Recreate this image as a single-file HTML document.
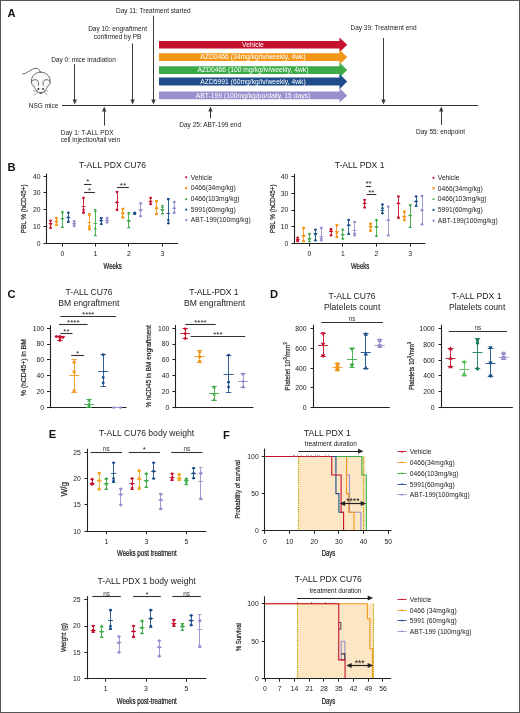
<!DOCTYPE html><html><head><meta charset="utf-8"><style>html,body{margin:0;padding:0;background:#fff}svg{display:block;filter:blur(0.3px)}text{font-family:"Liberation Sans",sans-serif}</style></head><body>
<svg width="520" height="713" viewBox="0 0 520 713">
<rect x="0" y="0" width="520" height="713" fill="#fff"/>
<text x="7.5" y="17.4" font-size="11.2" text-anchor="start" fill="#111" font-weight="bold" >A</text>
<line x1="62" y1="105.5" x2="478" y2="105.5" stroke="#333" stroke-width="1" />
<text x="83.5" y="61.5" font-size="6.5" text-anchor="middle" fill="#222" font-weight="normal" >Day 0: mice irradiation</text>
<line x1="74.5" y1="64" x2="74.5" y2="100.6" stroke="#3a3a3a" stroke-width="1" />
<path d="M72.6,99.6 L77.0,99.6 L74.8,104.6 Z" fill="#3a3a3a"/>
<text x="117.6" y="30.9" font-size="6.5" text-anchor="middle" fill="#222" font-weight="normal" >Day 10: engraftment</text>
<text x="117.6" y="38.7" font-size="6.5" text-anchor="middle" fill="#222" font-weight="normal" >confirmed by PB</text>
<line x1="132.5" y1="43.5" x2="132.5" y2="100.6" stroke="#3a3a3a" stroke-width="1" />
<path d="M130.4,99.6 L134.79999999999998,99.6 L132.6,104.6 Z" fill="#3a3a3a"/>
<text x="153.3" y="13.4" font-size="6.5" text-anchor="middle" fill="#222" font-weight="normal" >Day 11: Treatment started</text>
<line x1="153.5" y1="15.7" x2="153.5" y2="100.6" stroke="#3a3a3a" stroke-width="1" />
<path d="M151.3,99.6 L155.7,99.6 L153.5,104.6 Z" fill="#3a3a3a"/>
<text x="383.5" y="30.0" font-size="6.5" text-anchor="middle" fill="#222" font-weight="normal" >Day 39: Treatment end</text>
<line x1="383.5" y1="38" x2="383.5" y2="100.6" stroke="#3a3a3a" stroke-width="1" />
<path d="M381.3,99.6 L385.7,99.6 L383.5,104.6 Z" fill="#3a3a3a"/>
<line x1="104.5" y1="125.6" x2="104.5" y2="110.5" stroke="#3a3a3a" stroke-width="1" />
<path d="M102.0,111.5 L106.4,111.5 L104.2,106.5 Z" fill="#3a3a3a"/>
<text x="60.8" y="134.9" font-size="6.5" text-anchor="start" fill="#222" font-weight="normal" >Day 1: T-ALL PDX</text>
<text x="60.8" y="142.4" font-size="6.5" text-anchor="start" fill="#222" font-weight="normal" >cell injection/tail vein</text>
<line x1="210.5" y1="118.3" x2="210.5" y2="110.5" stroke="#3a3a3a" stroke-width="1" />
<path d="M208.20000000000002,111.5 L212.6,111.5 L210.4,106.5 Z" fill="#3a3a3a"/>
<text x="210.2" y="126.5" font-size="6.5" text-anchor="middle" fill="#222" font-weight="normal" >Day 25: ABT-199 end</text>
<line x1="441.5" y1="124.8" x2="441.5" y2="110.5" stroke="#3a3a3a" stroke-width="1" />
<path d="M439.0,111.5 L443.4,111.5 L441.2,106.5 Z" fill="#3a3a3a"/>
<text x="440.6" y="134.3" font-size="6.5" text-anchor="middle" fill="#222" font-weight="normal" >Day 55: endpoint</text>
<text x="43.6" y="107.6" font-size="6.5" text-anchor="middle" fill="#222" font-weight="normal" >NSG mice</text>
<path d="M159,41 L339.5,41 L339.5,37.4 L347.2,44.8 L339.5,52.2 L339.5,48.6 L159,48.6 Z" fill="#c4122f"/>
<text x="253" y="47.099999999999994" font-size="6.75" text-anchor="middle" fill="#fff" font-weight="normal" >Vehicle</text>
<path d="M159,53.3 L339.5,53.3 L339.5,49.699999999999996 L347.2,57.099999999999994 L339.5,64.5 L339.5,60.9 L159,60.9 Z" fill="#f3971b"/>
<text x="253" y="59.39999999999999" font-size="6.75" text-anchor="middle" fill="#fff" font-weight="normal" >AZD0466 (34mg/kg/iv/weekly, 4wk)</text>
<path d="M159,66.2 L339.5,66.2 L339.5,62.6 L347.2,70.05000000000001 L339.5,77.5 L339.5,73.9 L159,73.9 Z" fill="#3cab47"/>
<text x="253" y="72.35000000000001" font-size="6.75" text-anchor="middle" fill="#fff" font-weight="normal" >AZD0466 (100 mg/kg/iv/weekly, 4wk)</text>
<path d="M159,77.6 L339.5,77.6 L339.5,74.0 L347.2,81.6 L339.5,89.19999999999999 L339.5,85.6 L159,85.6 Z" fill="#1f4d8b"/>
<text x="253" y="83.89999999999999" font-size="6.75" text-anchor="middle" fill="#fff" font-weight="normal" >AZD5991 (60mg/kg/iv/weekly, 4wk)</text>
<path d="M159,91.6 L339.5,91.6 L339.5,88.0 L347.2,95.4 L339.5,102.8 L339.5,99.2 L159,99.2 Z" fill="#988fcc"/>
<text x="253" y="97.7" font-size="6.75" text-anchor="middle" fill="#fff" font-weight="normal" >ABT-199 (100mg/kg/po/daily, 15 days)</text>
<g fill="none" stroke="#555" stroke-width="0.9" stroke-linecap="round" stroke-linejoin="round">
<path d="M22.8,73.8 C27,74.2 31,68.5 36.2,68.2 C38.3,68.2 39.6,70 40.3,72.1"/>
<path d="M40.5,72.1 C45.5,72.1 49.6,75.5 50.1,80 C50.8,83 49.6,85.5 47.6,86.2 C46.4,89.3 43.5,93.3 40.8,93.3 C38.1,93.3 35.2,89.3 34,86.2 C32,85.5 30.8,83 31.5,80 C32,75.5 35.5,72.1 40.5,72.1 Z" fill="#fafafa"/>
<path d="M31.8,81.2 C33,79.4 35.9,79.2 37.4,80.4 C38.6,81.4 38.8,83.4 38.4,85.2" stroke="#666" stroke-width="1"/>
<path d="M49.8,81.2 C48.6,79.4 45.7,79.2 44.2,80.4 C43,81.4 42.8,83.4 43.2,85.2" stroke="#666" stroke-width="1"/>
<path d="M37.5,91.6 L33.6,90.8 M37.6,92.4 L34.5,94.8 M44.1,91.6 L48,90.8 M44,92.4 L47.1,94.8" stroke-width="0.5"/>
</g>
<circle cx="38.4" cy="88.9" r="0.95" fill="#222"/><circle cx="43.1" cy="88.9" r="0.95" fill="#222"/>
<path d="M39.6,92.4 Q40.8,93.6 42,92.4" stroke="#333" stroke-width="1.1" fill="none"/>
<text x="7.5" y="170.5" font-size="11.2" text-anchor="start" fill="#111" font-weight="bold" >B</text>
<text x="112.5" y="167.8" font-size="8.6" text-anchor="middle" fill="#222" font-weight="normal" >T-ALL PDX CU76</text>
<line x1="46.5" y1="173.6" x2="46.5" y2="244.1" stroke="#222" stroke-width="1.1" />
<line x1="43.5" y1="243.5" x2="46.5" y2="243.5" stroke="#222" stroke-width="1" />
<text x="40.5" y="245.9" font-size="6.8" text-anchor="end" fill="#222" font-weight="normal" >0</text>
<line x1="43.5" y1="226.5" x2="46.5" y2="226.5" stroke="#222" stroke-width="1" />
<text x="40.5" y="229.05" font-size="6.8" text-anchor="end" fill="#222" font-weight="normal" >10</text>
<line x1="43.5" y1="209.5" x2="46.5" y2="209.5" stroke="#222" stroke-width="1" />
<text x="40.5" y="212.20000000000002" font-size="6.8" text-anchor="end" fill="#222" font-weight="normal" >20</text>
<line x1="43.5" y1="192.5" x2="46.5" y2="192.5" stroke="#222" stroke-width="1" />
<text x="40.5" y="195.35" font-size="6.8" text-anchor="end" fill="#222" font-weight="normal" >30</text>
<line x1="43.5" y1="176.5" x2="46.5" y2="176.5" stroke="#222" stroke-width="1" />
<text x="40.5" y="178.5" font-size="6.8" text-anchor="end" fill="#222" font-weight="normal" >40</text>
<line x1="46.0" y1="243.5" x2="178" y2="243.5" stroke="#222" stroke-width="1.1" />
<line x1="62.5" y1="243.5" x2="62.5" y2="246.5" stroke="#222" stroke-width="1" />
<text x="62.4" y="255.9" font-size="6.8" text-anchor="middle" fill="#222" font-weight="normal" >0</text>
<line x1="95.5" y1="243.5" x2="95.5" y2="246.5" stroke="#222" stroke-width="1" />
<text x="95.3" y="255.9" font-size="6.8" text-anchor="middle" fill="#222" font-weight="normal" >1</text>
<line x1="128.5" y1="243.5" x2="128.5" y2="246.5" stroke="#222" stroke-width="1" />
<text x="128.8" y="255.9" font-size="6.8" text-anchor="middle" fill="#222" font-weight="normal" >2</text>
<line x1="162.5" y1="243.5" x2="162.5" y2="246.5" stroke="#222" stroke-width="1" />
<text x="162.4" y="255.9" font-size="6.8" text-anchor="middle" fill="#222" font-weight="normal" >3</text>
<text transform="translate(112.7,268.6) scale(0.7,1)" font-size="8.6" text-anchor="middle" fill="#222" stroke="#222" stroke-width="0.25">Weeks</text>
<text transform="translate(25.8,208.8) rotate(-90) scale(0.82,1)" font-size="7.8" text-anchor="middle" fill="#222" stroke="#222" stroke-width="0.2">PBL % (hCD45+)</text>
<line x1="50.5" y1="220.08" x2="50.5" y2="228.17" stroke="#c4122f" stroke-width="0.9" />
<line x1="49.3" y1="220.5" x2="51.89999999999999" y2="220.5" stroke="#c4122f" stroke-width="0.9" />
<line x1="49.3" y1="228.5" x2="51.89999999999999" y2="228.5" stroke="#c4122f" stroke-width="0.9" />
<line x1="48.699999999999996" y1="223.5" x2="52.49999999999999" y2="223.5" stroke="#c4122f" stroke-width="0.9" />
<circle cx="50.599999999999994" cy="220.75" r="1.25" fill="#c4122f"/>
<circle cx="50.599999999999994" cy="224.12" r="1.25" fill="#c4122f"/>
<circle cx="50.599999999999994" cy="227.83" r="1.25" fill="#c4122f"/>
<line x1="56.5" y1="217.21" x2="56.5" y2="225.98" stroke="#f3971b" stroke-width="0.9" />
<line x1="55.2" y1="217.5" x2="57.8" y2="217.5" stroke="#f3971b" stroke-width="0.9" />
<line x1="55.2" y1="225.5" x2="57.8" y2="225.5" stroke="#f3971b" stroke-width="0.9" />
<line x1="54.6" y1="221.5" x2="58.4" y2="221.5" stroke="#f3971b" stroke-width="0.9" />
<rect x="55.25" y="216.97" width="2.5" height="2.5" fill="#f3971b"/>
<rect x="55.25" y="220.34" width="2.5" height="2.5" fill="#f3971b"/>
<rect x="55.25" y="223.72" width="2.5" height="2.5" fill="#f3971b"/>
<line x1="62.5" y1="211.82" x2="62.5" y2="227.32" stroke="#3cab47" stroke-width="0.9" />
<line x1="61.1" y1="211.5" x2="63.699999999999996" y2="211.5" stroke="#3cab47" stroke-width="0.9" />
<line x1="61.1" y1="227.5" x2="63.699999999999996" y2="227.5" stroke="#3cab47" stroke-width="0.9" />
<line x1="60.5" y1="218.5" x2="64.3" y2="218.5" stroke="#3cab47" stroke-width="0.9" />
<path d="M62.4,210.7675 L63.9625,213.58 L60.8375,213.58 Z" fill="#3cab47"/>
<path d="M62.4,216.6575 L63.9625,219.47 L60.8375,219.47 Z" fill="#3cab47"/>
<path d="M62.4,225.0875 L63.9625,227.9 L60.8375,227.9 Z" fill="#3cab47"/>
<line x1="68.5" y1="212.16" x2="68.5" y2="222.61" stroke="#1c4f8a" stroke-width="0.9" />
<line x1="67.0" y1="212.5" x2="69.6" y2="212.5" stroke="#1c4f8a" stroke-width="0.9" />
<line x1="67.0" y1="222.5" x2="69.6" y2="222.5" stroke="#1c4f8a" stroke-width="0.9" />
<line x1="66.39999999999999" y1="217.5" x2="70.2" y2="217.5" stroke="#1c4f8a" stroke-width="0.9" />
<circle cx="68.3" cy="212.66" r="1.25" fill="#1c4f8a"/>
<circle cx="68.3" cy="217.38" r="1.25" fill="#1c4f8a"/>
<circle cx="68.3" cy="221.59" r="1.25" fill="#1c4f8a"/>
<line x1="74.5" y1="220.92" x2="74.5" y2="226.14" stroke="#9890cd" stroke-width="0.9" />
<line x1="72.9" y1="220.5" x2="75.5" y2="220.5" stroke="#9890cd" stroke-width="0.9" />
<line x1="72.9" y1="226.5" x2="75.5" y2="226.5" stroke="#9890cd" stroke-width="0.9" />
<line x1="72.3" y1="223.5" x2="76.10000000000001" y2="223.5" stroke="#9890cd" stroke-width="0.9" />
<path d="M74.2,219.9025 L75.8875,221.59 L74.2,223.2775 L72.5125,221.59 Z" fill="#9890cd"/>
<path d="M74.2,222.4325 L75.8875,224.12 L74.2,225.8075 L72.5125,224.12 Z" fill="#9890cd"/>
<path d="M74.2,224.1225 L75.8875,225.81 L74.2,227.4975 L72.5125,225.81 Z" fill="#9890cd"/>
<line x1="83.5" y1="197.67" x2="83.5" y2="213.84" stroke="#c4122f" stroke-width="0.9" />
<line x1="82.2" y1="197.5" x2="84.8" y2="197.5" stroke="#c4122f" stroke-width="0.9" />
<line x1="82.2" y1="213.5" x2="84.8" y2="213.5" stroke="#c4122f" stroke-width="0.9" />
<line x1="81.6" y1="206.5" x2="85.4" y2="206.5" stroke="#c4122f" stroke-width="0.9" />
<circle cx="83.5" cy="198.0" r="1.25" fill="#c4122f"/>
<circle cx="83.5" cy="209.8" r="1.25" fill="#c4122f"/>
<circle cx="83.5" cy="212.33" r="1.25" fill="#c4122f"/>
<line x1="89.5" y1="213.84" x2="89.5" y2="229.68" stroke="#f3971b" stroke-width="0.9" />
<line x1="88.1" y1="213.5" x2="90.69999999999999" y2="213.5" stroke="#f3971b" stroke-width="0.9" />
<line x1="88.1" y1="229.5" x2="90.69999999999999" y2="229.5" stroke="#f3971b" stroke-width="0.9" />
<line x1="87.49999999999999" y1="222.5" x2="91.3" y2="222.5" stroke="#f3971b" stroke-width="0.9" />
<rect x="88.14999999999999" y="213.6" width="2.5" height="2.5" fill="#f3971b"/>
<rect x="88.14999999999999" y="225.4" width="2.5" height="2.5" fill="#f3971b"/>
<rect x="88.14999999999999" y="227.93" width="2.5" height="2.5" fill="#f3971b"/>
<line x1="95.5" y1="209.8" x2="95.5" y2="235.41" stroke="#3cab47" stroke-width="0.9" />
<line x1="94.0" y1="209.5" x2="96.6" y2="209.5" stroke="#3cab47" stroke-width="0.9" />
<line x1="94.0" y1="235.5" x2="96.6" y2="235.5" stroke="#3cab47" stroke-width="0.9" />
<line x1="93.39999999999999" y1="223.5" x2="97.2" y2="223.5" stroke="#3cab47" stroke-width="0.9" />
<path d="M95.3,209.0775 L96.8625,211.89 L93.7375,211.89 Z" fill="#3cab47"/>
<path d="M95.3,226.7775 L96.8625,229.59 L93.7375,229.59 Z" fill="#3cab47"/>
<path d="M95.3,233.5075 L96.8625,236.32 L93.7375,236.32 Z" fill="#3cab47"/>
<line x1="101.5" y1="217.89" x2="101.5" y2="224.97" stroke="#1c4f8a" stroke-width="0.9" />
<line x1="99.9" y1="217.5" x2="102.5" y2="217.5" stroke="#1c4f8a" stroke-width="0.9" />
<line x1="99.9" y1="224.5" x2="102.5" y2="224.5" stroke="#1c4f8a" stroke-width="0.9" />
<line x1="99.3" y1="220.5" x2="103.10000000000001" y2="220.5" stroke="#1c4f8a" stroke-width="0.9" />
<circle cx="101.2" cy="218.22" r="1.25" fill="#1c4f8a"/>
<circle cx="101.2" cy="220.75" r="1.25" fill="#1c4f8a"/>
<circle cx="101.2" cy="224.12" r="1.25" fill="#1c4f8a"/>
<line x1="107.5" y1="217.55" x2="107.5" y2="222.94" stroke="#9890cd" stroke-width="0.9" />
<line x1="105.8" y1="217.5" x2="108.39999999999999" y2="217.5" stroke="#9890cd" stroke-width="0.9" />
<line x1="105.8" y1="222.5" x2="108.39999999999999" y2="222.5" stroke="#9890cd" stroke-width="0.9" />
<line x1="105.19999999999999" y1="220.5" x2="109.0" y2="220.5" stroke="#9890cd" stroke-width="0.9" />
<path d="M107.1,216.5325 L108.7875,218.22 L107.1,219.9075 L105.4125,218.22 Z" fill="#9890cd"/>
<path d="M107.1,219.0625 L108.7875,220.75 L107.1,222.4375 L105.4125,220.75 Z" fill="#9890cd"/>
<path d="M107.1,220.7525 L108.7875,222.44 L107.1,224.1275 L105.4125,222.44 Z" fill="#9890cd"/>
<line x1="117.5" y1="191.26" x2="117.5" y2="210.64" stroke="#c4122f" stroke-width="0.9" />
<line x1="115.70000000000002" y1="191.5" x2="118.30000000000001" y2="191.5" stroke="#c4122f" stroke-width="0.9" />
<line x1="115.70000000000002" y1="210.5" x2="118.30000000000001" y2="210.5" stroke="#c4122f" stroke-width="0.9" />
<line x1="115.10000000000001" y1="202.5" x2="118.90000000000002" y2="202.5" stroke="#c4122f" stroke-width="0.9" />
<circle cx="117.00000000000001" cy="192.11" r="1.25" fill="#c4122f"/>
<circle cx="117.00000000000001" cy="202.22" r="1.25" fill="#c4122f"/>
<circle cx="117.00000000000001" cy="209.8" r="1.25" fill="#c4122f"/>
<line x1="122.5" y1="208.45" x2="122.5" y2="217.89" stroke="#f3971b" stroke-width="0.9" />
<line x1="121.60000000000001" y1="208.5" x2="124.2" y2="208.5" stroke="#f3971b" stroke-width="0.9" />
<line x1="121.60000000000001" y1="217.5" x2="124.2" y2="217.5" stroke="#f3971b" stroke-width="0.9" />
<line x1="121.0" y1="213.5" x2="124.80000000000001" y2="213.5" stroke="#f3971b" stroke-width="0.9" />
<rect x="121.65" y="207.71" width="2.5" height="2.5" fill="#f3971b"/>
<rect x="121.65" y="211.92" width="2.5" height="2.5" fill="#f3971b"/>
<rect x="121.65" y="216.13" width="2.5" height="2.5" fill="#f3971b"/>
<line x1="128.5" y1="212.83" x2="128.5" y2="227.66" stroke="#3cab47" stroke-width="0.9" />
<line x1="127.50000000000001" y1="212.5" x2="130.10000000000002" y2="212.5" stroke="#3cab47" stroke-width="0.9" />
<line x1="127.50000000000001" y1="227.5" x2="130.10000000000002" y2="227.5" stroke="#3cab47" stroke-width="0.9" />
<line x1="126.9" y1="220.5" x2="130.70000000000002" y2="220.5" stroke="#3cab47" stroke-width="0.9" />
<path d="M128.8,211.6075 L130.3625,214.42 L127.23750000000001,214.42 Z" fill="#3cab47"/>
<path d="M128.8,219.1875 L130.3625,222.0 L127.23750000000001,222.0 Z" fill="#3cab47"/>
<path d="M128.8,225.4275 L130.3625,228.24 L127.23750000000001,228.24 Z" fill="#3cab47"/>
<line x1="134.5" y1="212.5" x2="134.5" y2="214.52" stroke="#1c4f8a" stroke-width="0.9" />
<line x1="133.4" y1="212.5" x2="136.00000000000003" y2="212.5" stroke="#1c4f8a" stroke-width="0.9" />
<line x1="133.4" y1="214.5" x2="136.00000000000003" y2="214.5" stroke="#1c4f8a" stroke-width="0.9" />
<line x1="132.8" y1="213.5" x2="136.60000000000002" y2="213.5" stroke="#1c4f8a" stroke-width="0.9" />
<circle cx="134.70000000000002" cy="212.66" r="1.25" fill="#1c4f8a"/>
<circle cx="134.70000000000002" cy="213.51" r="1.25" fill="#1c4f8a"/>
<line x1="140.5" y1="202.72" x2="140.5" y2="216.54" stroke="#9890cd" stroke-width="0.9" />
<line x1="139.3" y1="202.5" x2="141.90000000000003" y2="202.5" stroke="#9890cd" stroke-width="0.9" />
<line x1="139.3" y1="216.5" x2="141.90000000000003" y2="216.5" stroke="#9890cd" stroke-width="0.9" />
<line x1="138.70000000000002" y1="209.5" x2="142.50000000000003" y2="209.5" stroke="#9890cd" stroke-width="0.9" />
<path d="M140.60000000000002,202.2125 L142.28750000000002,203.9 L140.60000000000002,205.5875 L138.91250000000002,203.9 Z" fill="#9890cd"/>
<path d="M140.60000000000002,208.9525 L142.28750000000002,210.64 L140.60000000000002,212.3275 L138.91250000000002,210.64 Z" fill="#9890cd"/>
<path d="M140.60000000000002,214.3425 L142.28750000000002,216.03 L140.60000000000002,217.7175 L138.91250000000002,216.03 Z" fill="#9890cd"/>
<line x1="150.5" y1="197.67" x2="150.5" y2="204.41" stroke="#c4122f" stroke-width="0.9" />
<line x1="149.29999999999998" y1="197.5" x2="151.9" y2="197.5" stroke="#c4122f" stroke-width="0.9" />
<line x1="149.29999999999998" y1="204.5" x2="151.9" y2="204.5" stroke="#c4122f" stroke-width="0.9" />
<line x1="148.7" y1="201.5" x2="152.5" y2="201.5" stroke="#c4122f" stroke-width="0.9" />
<circle cx="150.6" cy="198.0" r="1.25" fill="#c4122f"/>
<circle cx="150.6" cy="201.38" r="1.25" fill="#c4122f"/>
<circle cx="150.6" cy="203.9" r="1.25" fill="#c4122f"/>
<line x1="156.5" y1="200.87" x2="156.5" y2="214.85" stroke="#f3971b" stroke-width="0.9" />
<line x1="155.2" y1="200.5" x2="157.8" y2="200.5" stroke="#f3971b" stroke-width="0.9" />
<line x1="155.2" y1="214.5" x2="157.8" y2="214.5" stroke="#f3971b" stroke-width="0.9" />
<line x1="154.6" y1="208.5" x2="158.4" y2="208.5" stroke="#f3971b" stroke-width="0.9" />
<rect x="155.25" y="200.13" width="2.5" height="2.5" fill="#f3971b"/>
<rect x="155.25" y="206.87" width="2.5" height="2.5" fill="#f3971b"/>
<rect x="155.25" y="212.76" width="2.5" height="2.5" fill="#f3971b"/>
<line x1="162.5" y1="205.76" x2="162.5" y2="213.84" stroke="#3cab47" stroke-width="0.9" />
<line x1="161.1" y1="205.5" x2="163.70000000000002" y2="205.5" stroke="#3cab47" stroke-width="0.9" />
<line x1="161.1" y1="213.5" x2="163.70000000000002" y2="213.5" stroke="#3cab47" stroke-width="0.9" />
<line x1="160.5" y1="209.5" x2="164.3" y2="209.5" stroke="#3cab47" stroke-width="0.9" />
<path d="M162.4,204.8675 L163.9625,207.68 L160.8375,207.68 Z" fill="#3cab47"/>
<path d="M162.4,208.2375 L163.9625,211.05 L160.8375,211.05 Z" fill="#3cab47"/>
<path d="M162.4,211.6075 L163.9625,214.42 L160.8375,214.42 Z" fill="#3cab47"/>
<line x1="168.5" y1="198.68" x2="168.5" y2="223.79" stroke="#1c4f8a" stroke-width="0.9" />
<line x1="167.0" y1="198.5" x2="169.60000000000002" y2="198.5" stroke="#1c4f8a" stroke-width="0.9" />
<line x1="167.0" y1="223.5" x2="169.60000000000002" y2="223.5" stroke="#1c4f8a" stroke-width="0.9" />
<line x1="166.4" y1="213.5" x2="170.20000000000002" y2="213.5" stroke="#1c4f8a" stroke-width="0.9" />
<circle cx="168.3" cy="199.18" r="1.25" fill="#1c4f8a"/>
<circle cx="168.3" cy="219.91" r="1.25" fill="#1c4f8a"/>
<circle cx="168.3" cy="223.28" r="1.25" fill="#1c4f8a"/>
<line x1="174.5" y1="201.38" x2="174.5" y2="213.34" stroke="#9890cd" stroke-width="0.9" />
<line x1="172.9" y1="201.5" x2="175.50000000000003" y2="201.5" stroke="#9890cd" stroke-width="0.9" />
<line x1="172.9" y1="213.5" x2="175.50000000000003" y2="213.5" stroke="#9890cd" stroke-width="0.9" />
<line x1="172.3" y1="208.5" x2="176.10000000000002" y2="208.5" stroke="#9890cd" stroke-width="0.9" />
<path d="M174.20000000000002,200.5325 L175.88750000000002,202.22 L174.20000000000002,203.9075 L172.51250000000002,202.22 Z" fill="#9890cd"/>
<path d="M174.20000000000002,206.4325 L175.88750000000002,208.12 L174.20000000000002,209.8075 L172.51250000000002,208.12 Z" fill="#9890cd"/>
<path d="M174.20000000000002,210.6425 L175.88750000000002,212.33 L174.20000000000002,214.0175 L172.51250000000002,212.33 Z" fill="#9890cd"/>
<line x1="84" y1="184.5" x2="91.4" y2="184.5" stroke="#333" stroke-width="1.1" />
<text x="87.7" y="184.2" font-size="8.0" text-anchor="middle" fill="#222" font-weight="normal" >*</text>
<line x1="84" y1="192.5" x2="94.9" y2="192.5" stroke="#333" stroke-width="1.1" />
<text x="89.45" y="192.7" font-size="8.0" text-anchor="middle" fill="#222" font-weight="normal" >*</text>
<line x1="117" y1="187.5" x2="128.8" y2="187.5" stroke="#333" stroke-width="1.1" />
<text x="122.9" y="187.6" font-size="8.0" text-anchor="middle" fill="#222" font-weight="normal" >**</text>
<text x="359.6" y="167.8" font-size="8.6" text-anchor="middle" fill="#222" font-weight="normal" >T-ALL PDX 1</text>
<line x1="294.5" y1="173.9" x2="294.5" y2="244.2" stroke="#222" stroke-width="1.1" />
<line x1="291.4" y1="243.5" x2="294.4" y2="243.5" stroke="#222" stroke-width="1" />
<text x="288.4" y="246.0" font-size="6.8" text-anchor="end" fill="#222" font-weight="normal" >0</text>
<line x1="291.4" y1="226.5" x2="294.4" y2="226.5" stroke="#222" stroke-width="1" />
<text x="288.4" y="229.20000000000002" font-size="6.8" text-anchor="end" fill="#222" font-weight="normal" >10</text>
<line x1="291.4" y1="210.5" x2="294.4" y2="210.5" stroke="#222" stroke-width="1" />
<text x="288.4" y="212.4" font-size="6.8" text-anchor="end" fill="#222" font-weight="normal" >20</text>
<line x1="291.4" y1="193.5" x2="294.4" y2="193.5" stroke="#222" stroke-width="1" />
<text x="288.4" y="195.6" font-size="6.8" text-anchor="end" fill="#222" font-weight="normal" >30</text>
<line x1="291.4" y1="176.5" x2="294.4" y2="176.5" stroke="#222" stroke-width="1" />
<text x="288.4" y="178.8" font-size="6.8" text-anchor="end" fill="#222" font-weight="normal" >40</text>
<line x1="293.9" y1="243.5" x2="425.3" y2="243.5" stroke="#222" stroke-width="1.1" />
<line x1="309.5" y1="243.6" x2="309.5" y2="246.6" stroke="#222" stroke-width="1" />
<text x="309.5" y="256.0" font-size="6.8" text-anchor="middle" fill="#222" font-weight="normal" >0</text>
<line x1="342.5" y1="243.6" x2="342.5" y2="246.6" stroke="#222" stroke-width="1" />
<text x="342.8" y="256.0" font-size="6.8" text-anchor="middle" fill="#222" font-weight="normal" >1</text>
<line x1="376.5" y1="243.6" x2="376.5" y2="246.6" stroke="#222" stroke-width="1" />
<text x="376.5" y="256.0" font-size="6.8" text-anchor="middle" fill="#222" font-weight="normal" >2</text>
<line x1="410.5" y1="243.6" x2="410.5" y2="246.6" stroke="#222" stroke-width="1" />
<text x="410.2" y="256.0" font-size="6.8" text-anchor="middle" fill="#222" font-weight="normal" >3</text>
<text transform="translate(360.15000000000003,268.6) scale(0.7,1)" font-size="8.6" text-anchor="middle" fill="#222" stroke="#222" stroke-width="0.25">Weeks</text>
<text transform="translate(274.6,208.8) rotate(-90) scale(0.82,1)" font-size="7.8" text-anchor="middle" fill="#222" stroke="#222" stroke-width="0.2">PBL % (hCD45+)</text>
<line x1="297.5" y1="237.05" x2="297.5" y2="241.25" stroke="#c4122f" stroke-width="0.9" />
<line x1="296.4" y1="237.5" x2="299.0" y2="237.5" stroke="#c4122f" stroke-width="0.9" />
<line x1="296.4" y1="241.5" x2="299.0" y2="241.5" stroke="#c4122f" stroke-width="0.9" />
<line x1="295.8" y1="239.5" x2="299.59999999999997" y2="239.5" stroke="#c4122f" stroke-width="0.9" />
<circle cx="297.7" cy="237.72" r="1.25" fill="#c4122f"/>
<circle cx="297.7" cy="240.24" r="1.25" fill="#c4122f"/>
<circle cx="297.7" cy="241.08" r="1.25" fill="#c4122f"/>
<line x1="303.5" y1="227.47" x2="303.5" y2="241.25" stroke="#f3971b" stroke-width="0.9" />
<line x1="302.3" y1="227.5" x2="304.90000000000003" y2="227.5" stroke="#f3971b" stroke-width="0.9" />
<line x1="302.3" y1="241.5" x2="304.90000000000003" y2="241.5" stroke="#f3971b" stroke-width="0.9" />
<line x1="301.70000000000005" y1="235.5" x2="305.5" y2="235.5" stroke="#f3971b" stroke-width="0.9" />
<rect x="302.35" y="226.73" width="2.5" height="2.5" fill="#f3971b"/>
<rect x="302.35" y="234.79" width="2.5" height="2.5" fill="#f3971b"/>
<rect x="302.35" y="239.83" width="2.5" height="2.5" fill="#f3971b"/>
<line x1="309.5" y1="233.52" x2="309.5" y2="241.25" stroke="#3cab47" stroke-width="0.9" />
<line x1="308.2" y1="233.5" x2="310.8" y2="233.5" stroke="#3cab47" stroke-width="0.9" />
<line x1="308.2" y1="241.5" x2="310.8" y2="241.5" stroke="#3cab47" stroke-width="0.9" />
<line x1="307.6" y1="238.5" x2="311.4" y2="238.5" stroke="#3cab47" stroke-width="0.9" />
<path d="M309.5,232.2975 L311.0625,235.11 L307.9375,235.11 Z" fill="#3cab47"/>
<path d="M309.5,236.9975 L311.0625,239.81 L307.9375,239.81 Z" fill="#3cab47"/>
<path d="M309.5,239.5175 L311.0625,242.33 L307.9375,242.33 Z" fill="#3cab47"/>
<line x1="315.5" y1="229.15" x2="315.5" y2="240.58" stroke="#1c4f8a" stroke-width="0.9" />
<line x1="314.09999999999997" y1="229.5" x2="316.7" y2="229.5" stroke="#1c4f8a" stroke-width="0.9" />
<line x1="314.09999999999997" y1="240.5" x2="316.7" y2="240.5" stroke="#1c4f8a" stroke-width="0.9" />
<line x1="313.5" y1="233.5" x2="317.29999999999995" y2="233.5" stroke="#1c4f8a" stroke-width="0.9" />
<circle cx="315.4" cy="229.66" r="1.25" fill="#1c4f8a"/>
<circle cx="315.4" cy="234.36" r="1.25" fill="#1c4f8a"/>
<circle cx="315.4" cy="240.24" r="1.25" fill="#1c4f8a"/>
<line x1="321.5" y1="227.47" x2="321.5" y2="240.58" stroke="#9890cd" stroke-width="0.9" />
<line x1="320.0" y1="227.5" x2="322.6" y2="227.5" stroke="#9890cd" stroke-width="0.9" />
<line x1="320.0" y1="240.5" x2="322.6" y2="240.5" stroke="#9890cd" stroke-width="0.9" />
<line x1="319.40000000000003" y1="236.5" x2="323.2" y2="236.5" stroke="#9890cd" stroke-width="0.9" />
<path d="M321.3,226.2925 L322.9875,227.98 L321.3,229.6675 L319.6125,227.98 Z" fill="#9890cd"/>
<path d="M321.3,236.8725 L322.9875,238.56 L321.3,240.2475 L319.6125,238.56 Z" fill="#9890cd"/>
<path d="M321.3,238.5525 L322.9875,240.24 L321.3,241.9275 L319.6125,240.24 Z" fill="#9890cd"/>
<line x1="331.5" y1="228.98" x2="331.5" y2="235.37" stroke="#c4122f" stroke-width="0.9" />
<line x1="329.7" y1="228.5" x2="332.3" y2="228.5" stroke="#c4122f" stroke-width="0.9" />
<line x1="329.7" y1="235.5" x2="332.3" y2="235.5" stroke="#c4122f" stroke-width="0.9" />
<line x1="329.1" y1="231.5" x2="332.9" y2="231.5" stroke="#c4122f" stroke-width="0.9" />
<circle cx="331.0" cy="229.32" r="1.25" fill="#c4122f"/>
<circle cx="331.0" cy="231.0" r="1.25" fill="#c4122f"/>
<circle cx="331.0" cy="235.2" r="1.25" fill="#c4122f"/>
<line x1="336.5" y1="224.45" x2="336.5" y2="237.05" stroke="#f3971b" stroke-width="0.9" />
<line x1="335.6" y1="224.5" x2="338.20000000000005" y2="224.5" stroke="#f3971b" stroke-width="0.9" />
<line x1="335.6" y1="237.5" x2="338.20000000000005" y2="237.5" stroke="#f3971b" stroke-width="0.9" />
<line x1="335.00000000000006" y1="231.5" x2="338.8" y2="231.5" stroke="#f3971b" stroke-width="0.9" />
<rect x="335.65000000000003" y="223.87" width="2.5" height="2.5" fill="#f3971b"/>
<rect x="335.65000000000003" y="231.43" width="2.5" height="2.5" fill="#f3971b"/>
<rect x="335.65000000000003" y="235.63" width="2.5" height="2.5" fill="#f3971b"/>
<line x1="342.5" y1="229.15" x2="342.5" y2="238.73" stroke="#3cab47" stroke-width="0.9" />
<line x1="341.5" y1="229.5" x2="344.1" y2="229.5" stroke="#3cab47" stroke-width="0.9" />
<line x1="341.5" y1="238.5" x2="344.1" y2="238.5" stroke="#3cab47" stroke-width="0.9" />
<line x1="340.90000000000003" y1="234.5" x2="344.7" y2="234.5" stroke="#3cab47" stroke-width="0.9" />
<path d="M342.8,227.7575 L344.3625,230.57 L341.2375,230.57 Z" fill="#3cab47"/>
<path d="M342.8,232.7975 L344.3625,235.61 L341.2375,235.61 Z" fill="#3cab47"/>
<path d="M342.8,236.9975 L344.3625,239.81 L341.2375,239.81 Z" fill="#3cab47"/>
<line x1="348.5" y1="219.74" x2="348.5" y2="234.36" stroke="#1c4f8a" stroke-width="0.9" />
<line x1="347.4" y1="219.5" x2="350.0" y2="219.5" stroke="#1c4f8a" stroke-width="0.9" />
<line x1="347.4" y1="234.5" x2="350.0" y2="234.5" stroke="#1c4f8a" stroke-width="0.9" />
<line x1="346.8" y1="225.5" x2="350.59999999999997" y2="225.5" stroke="#1c4f8a" stroke-width="0.9" />
<circle cx="348.7" cy="220.08" r="1.25" fill="#1c4f8a"/>
<circle cx="348.7" cy="225.12" r="1.25" fill="#1c4f8a"/>
<circle cx="348.7" cy="233.86" r="1.25" fill="#1c4f8a"/>
<line x1="354.5" y1="221.76" x2="354.5" y2="235.37" stroke="#9890cd" stroke-width="0.9" />
<line x1="353.3" y1="221.5" x2="355.90000000000003" y2="221.5" stroke="#9890cd" stroke-width="0.9" />
<line x1="353.3" y1="235.5" x2="355.90000000000003" y2="235.5" stroke="#9890cd" stroke-width="0.9" />
<line x1="352.70000000000005" y1="230.5" x2="356.5" y2="230.5" stroke="#9890cd" stroke-width="0.9" />
<path d="M354.6,220.4125 L356.2875,222.1 L354.6,223.7875 L352.9125,222.1 Z" fill="#9890cd"/>
<path d="M354.6,231.8325 L356.2875,233.52 L354.6,235.2075 L352.9125,233.52 Z" fill="#9890cd"/>
<path d="M354.6,233.5125 L356.2875,235.2 L354.6,236.8875 L352.9125,235.2 Z" fill="#9890cd"/>
<line x1="364.5" y1="199.58" x2="364.5" y2="207.65" stroke="#c4122f" stroke-width="0.9" />
<line x1="363.4" y1="199.5" x2="366.0" y2="199.5" stroke="#c4122f" stroke-width="0.9" />
<line x1="363.4" y1="207.5" x2="366.0" y2="207.5" stroke="#c4122f" stroke-width="0.9" />
<line x1="362.8" y1="203.5" x2="366.59999999999997" y2="203.5" stroke="#c4122f" stroke-width="0.9" />
<circle cx="364.7" cy="199.92" r="1.25" fill="#c4122f"/>
<circle cx="364.7" cy="203.28" r="1.25" fill="#c4122f"/>
<circle cx="364.7" cy="207.48" r="1.25" fill="#c4122f"/>
<line x1="370.5" y1="223.27" x2="370.5" y2="231.0" stroke="#f3971b" stroke-width="0.9" />
<line x1="369.3" y1="223.5" x2="371.90000000000003" y2="223.5" stroke="#f3971b" stroke-width="0.9" />
<line x1="369.3" y1="231.5" x2="371.90000000000003" y2="231.5" stroke="#f3971b" stroke-width="0.9" />
<line x1="368.70000000000005" y1="226.5" x2="372.5" y2="226.5" stroke="#f3971b" stroke-width="0.9" />
<rect x="369.35" y="222.53" width="2.5" height="2.5" fill="#f3971b"/>
<rect x="369.35" y="225.55" width="2.5" height="2.5" fill="#f3971b"/>
<rect x="369.35" y="229.25" width="2.5" height="2.5" fill="#f3971b"/>
<line x1="376.5" y1="219.24" x2="376.5" y2="236.21" stroke="#3cab47" stroke-width="0.9" />
<line x1="375.2" y1="219.5" x2="377.8" y2="219.5" stroke="#3cab47" stroke-width="0.9" />
<line x1="375.2" y1="236.5" x2="377.8" y2="236.5" stroke="#3cab47" stroke-width="0.9" />
<line x1="374.6" y1="226.5" x2="378.4" y2="226.5" stroke="#3cab47" stroke-width="0.9" />
<path d="M376.5,218.5175 L378.0625,221.33 L374.9375,221.33 Z" fill="#3cab47"/>
<path d="M376.5,225.2375 L378.0625,228.05 L374.9375,228.05 Z" fill="#3cab47"/>
<path d="M376.5,233.6375 L378.0625,236.45 L374.9375,236.45 Z" fill="#3cab47"/>
<line x1="382.5" y1="204.12" x2="382.5" y2="213.7" stroke="#1c4f8a" stroke-width="0.9" />
<line x1="381.09999999999997" y1="204.5" x2="383.7" y2="204.5" stroke="#1c4f8a" stroke-width="0.9" />
<line x1="381.09999999999997" y1="213.5" x2="383.7" y2="213.5" stroke="#1c4f8a" stroke-width="0.9" />
<line x1="380.5" y1="210.5" x2="384.29999999999995" y2="210.5" stroke="#1c4f8a" stroke-width="0.9" />
<circle cx="382.4" cy="204.46" r="1.25" fill="#1c4f8a"/>
<circle cx="382.4" cy="208.32" r="1.25" fill="#1c4f8a"/>
<circle cx="382.4" cy="213.36" r="1.25" fill="#1c4f8a"/>
<line x1="388.5" y1="206.47" x2="388.5" y2="235.37" stroke="#9890cd" stroke-width="0.9" />
<line x1="387.0" y1="206.5" x2="389.6" y2="206.5" stroke="#9890cd" stroke-width="0.9" />
<line x1="387.0" y1="235.5" x2="389.6" y2="235.5" stroke="#9890cd" stroke-width="0.9" />
<line x1="386.40000000000003" y1="220.5" x2="390.2" y2="220.5" stroke="#9890cd" stroke-width="0.9" />
<path d="M388.3,204.9525 L389.9875,206.64 L388.3,208.3275 L386.6125,206.64 Z" fill="#9890cd"/>
<path d="M388.3,218.3925 L389.9875,220.08 L388.3,221.7675 L386.6125,220.08 Z" fill="#9890cd"/>
<path d="M388.3,233.5125 L389.9875,235.2 L388.3,236.8875 L386.6125,235.2 Z" fill="#9890cd"/>
<line x1="398.5" y1="196.06" x2="398.5" y2="218.06" stroke="#c4122f" stroke-width="0.9" />
<line x1="397.09999999999997" y1="196.5" x2="399.7" y2="196.5" stroke="#c4122f" stroke-width="0.9" />
<line x1="397.09999999999997" y1="218.5" x2="399.7" y2="218.5" stroke="#c4122f" stroke-width="0.9" />
<line x1="396.5" y1="203.5" x2="400.29999999999995" y2="203.5" stroke="#c4122f" stroke-width="0.9" />
<circle cx="398.4" cy="196.56" r="1.25" fill="#c4122f"/>
<circle cx="398.4" cy="203.28" r="1.25" fill="#c4122f"/>
<circle cx="398.4" cy="217.56" r="1.25" fill="#c4122f"/>
<line x1="404.5" y1="211.01" x2="404.5" y2="220.58" stroke="#f3971b" stroke-width="0.9" />
<line x1="403.0" y1="211.5" x2="405.6" y2="211.5" stroke="#f3971b" stroke-width="0.9" />
<line x1="403.0" y1="220.5" x2="405.6" y2="220.5" stroke="#f3971b" stroke-width="0.9" />
<line x1="402.40000000000003" y1="216.5" x2="406.2" y2="216.5" stroke="#f3971b" stroke-width="0.9" />
<rect x="403.05" y="210.43" width="2.5" height="2.5" fill="#f3971b"/>
<rect x="403.05" y="215.47" width="2.5" height="2.5" fill="#f3971b"/>
<rect x="403.05" y="218.83" width="2.5" height="2.5" fill="#f3971b"/>
<line x1="410.5" y1="204.62" x2="410.5" y2="227.14" stroke="#3cab47" stroke-width="0.9" />
<line x1="408.9" y1="204.5" x2="411.5" y2="204.5" stroke="#3cab47" stroke-width="0.9" />
<line x1="408.9" y1="227.5" x2="411.5" y2="227.5" stroke="#3cab47" stroke-width="0.9" />
<line x1="408.3" y1="215.5" x2="412.09999999999997" y2="215.5" stroke="#3cab47" stroke-width="0.9" />
<path d="M410.2,203.3975 L411.7625,206.21 L408.6375,206.21 Z" fill="#3cab47"/>
<path d="M410.2,213.4775 L411.7625,216.29 L408.6375,216.29 Z" fill="#3cab47"/>
<path d="M410.2,225.2375 L411.7625,228.05 L408.6375,228.05 Z" fill="#3cab47"/>
<line x1="416.5" y1="196.06" x2="416.5" y2="206.64" stroke="#1c4f8a" stroke-width="0.9" />
<line x1="414.79999999999995" y1="196.5" x2="417.4" y2="196.5" stroke="#1c4f8a" stroke-width="0.9" />
<line x1="414.79999999999995" y1="206.5" x2="417.4" y2="206.5" stroke="#1c4f8a" stroke-width="0.9" />
<line x1="414.2" y1="201.5" x2="417.99999999999994" y2="201.5" stroke="#1c4f8a" stroke-width="0.9" />
<circle cx="416.09999999999997" cy="196.56" r="1.25" fill="#1c4f8a"/>
<circle cx="416.09999999999997" cy="201.6" r="1.25" fill="#1c4f8a"/>
<circle cx="416.09999999999997" cy="205.8" r="1.25" fill="#1c4f8a"/>
<line x1="422.5" y1="195.72" x2="422.5" y2="224.95" stroke="#9890cd" stroke-width="0.9" />
<line x1="420.7" y1="195.5" x2="423.3" y2="195.5" stroke="#9890cd" stroke-width="0.9" />
<line x1="420.7" y1="224.5" x2="423.3" y2="224.5" stroke="#9890cd" stroke-width="0.9" />
<line x1="420.1" y1="210.5" x2="423.9" y2="210.5" stroke="#9890cd" stroke-width="0.9" />
<path d="M422.0,194.3725 L423.6875,196.06 L422.0,197.7475 L420.3125,196.06 Z" fill="#9890cd"/>
<path d="M422.0,208.3125 L423.6875,210.0 L422.0,211.6875 L420.3125,210.0 Z" fill="#9890cd"/>
<path d="M422.0,222.5925 L423.6875,224.28 L422.0,225.9675 L420.3125,224.28 Z" fill="#9890cd"/>
<line x1="366" y1="186.5" x2="371" y2="186.5" stroke="#333" stroke-width="1.1" />
<text x="368.5" y="186.4" font-size="8.0" text-anchor="middle" fill="#222" font-weight="normal" >**</text>
<line x1="366.4" y1="194.5" x2="376.3" y2="194.5" stroke="#333" stroke-width="1.1" />
<text x="371.35" y="194.7" font-size="8.0" text-anchor="middle" fill="#222" font-weight="normal" >**</text>
<circle cx="186.2" cy="177.3" r="1.1" fill="#c4122f"/>
<text x="190.8" y="179.60000000000002" font-size="6.7" text-anchor="start" fill="#222" font-weight="normal" >Vehicle</text>
<rect x="185.1" y="187.0" width="2.2" height="2.2" fill="#f3971b"/>
<text x="190.8" y="190.4" font-size="6.7" text-anchor="start" fill="#222" font-weight="normal" >0466(34mg/kg)</text>
<path d="M186.2,197.525 L187.575,200.0 L184.825,200.0 Z" fill="#3cab47"/>
<text x="190.8" y="201.20000000000002" font-size="6.7" text-anchor="start" fill="#222" font-weight="normal" >0466(103mg/kg)</text>
<circle cx="186.2" cy="209.6" r="1.1" fill="#1c4f8a"/>
<text x="190.8" y="211.9" font-size="6.7" text-anchor="start" fill="#222" font-weight="normal" >5991(60mg/kg)</text>
<path d="M186.2,218.515 L187.685,220.0 L186.2,221.485 L184.71499999999997,220.0 Z" fill="#9890cd"/>
<text x="190.8" y="222.3" font-size="6.7" text-anchor="start" fill="#222" font-weight="normal" >ABT-199(100mg/kg)</text>
<circle cx="433.5" cy="177.8" r="1.1" fill="#c4122f"/>
<text x="437.8" y="180.10000000000002" font-size="6.7" text-anchor="start" fill="#222" font-weight="normal" >Vehicle</text>
<rect x="432.4" y="187.1" width="2.2" height="2.2" fill="#f3971b"/>
<text x="437.8" y="190.5" font-size="6.7" text-anchor="start" fill="#222" font-weight="normal" >0466(34mg/kg)</text>
<path d="M433.5,197.625 L434.875,200.1 L432.125,200.1 Z" fill="#3cab47"/>
<text x="437.8" y="201.3" font-size="6.7" text-anchor="start" fill="#222" font-weight="normal" >0466(103mg/kg)</text>
<circle cx="433.5" cy="209.9" r="1.1" fill="#1c4f8a"/>
<text x="437.8" y="212.20000000000002" font-size="6.7" text-anchor="start" fill="#222" font-weight="normal" >5991(60mg/kg)</text>
<path d="M433.5,219.21499999999997 L434.985,220.7 L433.5,222.185 L432.015,220.7 Z" fill="#9890cd"/>
<text x="437.8" y="223.0" font-size="6.7" text-anchor="start" fill="#222" font-weight="normal" >ABT-199(100mg/kg)</text>
<text x="7.5" y="297.6" font-size="11.2" text-anchor="start" fill="#111" font-weight="bold" >C</text>
<text x="89" y="295" font-size="8.6" text-anchor="middle" fill="#222" font-weight="normal" >T-ALL CU76</text>
<text x="88.8" y="305.8" font-size="8.6" text-anchor="middle" fill="#222" font-weight="normal" >BM engraftment</text>
<line x1="50.5" y1="325.1" x2="50.5" y2="408.20000000000005" stroke="#222" stroke-width="1.1" />
<line x1="47" y1="407.5" x2="50" y2="407.5" stroke="#222" stroke-width="1" />
<text x="44.0" y="410.0" font-size="6.8" text-anchor="end" fill="#222" font-weight="normal" >0</text>
<line x1="47" y1="391.5" x2="50" y2="391.5" stroke="#222" stroke-width="1" />
<text x="44.0" y="394.09999999999997" font-size="6.8" text-anchor="end" fill="#222" font-weight="normal" >20</text>
<line x1="47" y1="375.5" x2="50" y2="375.5" stroke="#222" stroke-width="1" />
<text x="44.0" y="378.2" font-size="6.8" text-anchor="end" fill="#222" font-weight="normal" >40</text>
<line x1="47" y1="359.5" x2="50" y2="359.5" stroke="#222" stroke-width="1" />
<text x="44.0" y="362.29999999999995" font-size="6.8" text-anchor="end" fill="#222" font-weight="normal" >60</text>
<line x1="47" y1="344.5" x2="50" y2="344.5" stroke="#222" stroke-width="1" />
<text x="44.0" y="346.4" font-size="6.8" text-anchor="end" fill="#222" font-weight="normal" >80</text>
<line x1="47" y1="328.5" x2="50" y2="328.5" stroke="#222" stroke-width="1" />
<text x="44.0" y="330.5" font-size="6.8" text-anchor="end" fill="#222" font-weight="normal" >100</text>
<line x1="49.5" y1="407.5" x2="126.5" y2="407.5" stroke="#222" stroke-width="1.1" />
<line x1="59.5" y1="336.05" x2="59.5" y2="340.82" stroke="#c4122f" stroke-width="0.9" />
<line x1="57.15" y1="336.5" x2="62.65" y2="336.5" stroke="#c4122f" stroke-width="0.9" />
<line x1="57.15" y1="340.5" x2="62.65" y2="340.5" stroke="#c4122f" stroke-width="0.9" />
<line x1="54.9" y1="336.5" x2="64.9" y2="336.5" stroke="#c4122f" stroke-width="0.9" />
<circle cx="59.9" cy="336.45" r="1.45" fill="#c4122f"/>
<circle cx="59.9" cy="337.64" r="1.45" fill="#c4122f"/>
<circle cx="59.9" cy="340.42" r="1.45" fill="#c4122f"/>
<line x1="74.5" y1="359.42" x2="74.5" y2="392.57" stroke="#f3971b" stroke-width="0.9" />
<line x1="71.35" y1="359.5" x2="76.85" y2="359.5" stroke="#f3971b" stroke-width="0.9" />
<line x1="71.35" y1="392.5" x2="76.85" y2="392.5" stroke="#f3971b" stroke-width="0.9" />
<line x1="69.1" y1="375.5" x2="79.1" y2="375.5" stroke="#f3971b" stroke-width="0.9" />
<rect x="72.64999999999999" y="360.84000000000003" width="2.9" height="2.9" fill="#f3971b"/>
<rect x="72.64999999999999" y="370.38" width="2.9" height="2.9" fill="#f3971b"/>
<rect x="72.64999999999999" y="389.46000000000004" width="2.9" height="2.9" fill="#f3971b"/>
<line x1="89.5" y1="399.81" x2="89.5" y2="407.6" stroke="#3cab47" stroke-width="0.9" />
<line x1="86.25" y1="399.5" x2="91.75" y2="399.5" stroke="#3cab47" stroke-width="0.9" />
<line x1="86.25" y1="407.5" x2="91.75" y2="407.5" stroke="#3cab47" stroke-width="0.9" />
<line x1="84.0" y1="404.5" x2="94.0" y2="404.5" stroke="#3cab47" stroke-width="0.9" />
<path d="M89,398.2375 L90.8125,401.5 L87.1875,401.5 Z" fill="#3cab47"/>
<path d="M89,402.2875 L90.8125,405.55 L87.1875,405.55 Z" fill="#3cab47"/>
<path d="M89,403.7175 L90.8125,406.97999999999996 L87.1875,406.97999999999996 Z" fill="#3cab47"/>
<line x1="103.5" y1="354.34" x2="103.5" y2="386.14" stroke="#1c4f8a" stroke-width="0.9" />
<line x1="100.45" y1="354.5" x2="105.95" y2="354.5" stroke="#1c4f8a" stroke-width="0.9" />
<line x1="100.45" y1="386.5" x2="105.95" y2="386.5" stroke="#1c4f8a" stroke-width="0.9" />
<line x1="98.2" y1="371.5" x2="108.2" y2="371.5" stroke="#1c4f8a" stroke-width="0.9" />
<circle cx="103.2" cy="354.73" r="1.45" fill="#1c4f8a"/>
<circle cx="103.2" cy="377.39" r="1.45" fill="#1c4f8a"/>
<circle cx="103.2" cy="382.96" r="1.45" fill="#1c4f8a"/>
<line x1="117.5" y1="407.2" x2="117.5" y2="407.6" stroke="#9890cd" stroke-width="0.9" />
<line x1="114.25" y1="407.5" x2="119.75" y2="407.5" stroke="#9890cd" stroke-width="0.9" />
<line x1="114.25" y1="407.5" x2="119.75" y2="407.5" stroke="#9890cd" stroke-width="0.9" />
<line x1="112.0" y1="407.5" x2="122.0" y2="407.5" stroke="#9890cd" stroke-width="0.9" />
<line x1="60.4" y1="316.5" x2="116.1" y2="316.5" stroke="#333" stroke-width="1.1" />
<text x="88.25" y="316.7" font-size="8.0" text-anchor="middle" fill="#222" font-weight="normal" >****</text>
<line x1="59" y1="324.5" x2="87.6" y2="324.5" stroke="#333" stroke-width="1.1" />
<text x="73.3" y="324.8" font-size="8.0" text-anchor="middle" fill="#222" font-weight="normal" >****</text>
<line x1="60.4" y1="333.5" x2="72.5" y2="333.5" stroke="#333" stroke-width="1.1" />
<text x="66.45" y="334.0" font-size="8.0" text-anchor="middle" fill="#222" font-weight="normal" >**</text>
<line x1="71.2" y1="355.5" x2="84.1" y2="355.5" stroke="#333" stroke-width="1.1" />
<text x="77.65" y="356.0" font-size="8.0" text-anchor="middle" fill="#222" font-weight="normal" >*</text>
<circle cx="113.6" cy="407.6" r="1.4" fill="#9890cd"/><circle cx="120.5" cy="407.6" r="1.4" fill="#9890cd"/>
<circle cx="56.4" cy="336.45" r="1.5" fill="#c4122f"/><circle cx="62.8" cy="337.24" r="1.5" fill="#c4122f"/>
<text transform="translate(25.9,367.7) rotate(-90) scale(0.9,1)" font-size="7.6" text-anchor="middle" fill="#222" stroke="#222" stroke-width="0.2">% (hCD45+) in BM</text>
<text x="213.8" y="295" font-size="8.6" text-anchor="middle" fill="#222" font-weight="normal" letter-spacing="-0.15">T-ALL-PDX 1</text>
<text x="214.6" y="305.8" font-size="8.6" text-anchor="middle" fill="#222" font-weight="normal" >BM engraftment</text>
<line x1="175.5" y1="325.1" x2="175.5" y2="408.20000000000005" stroke="#222" stroke-width="1.1" />
<line x1="172.4" y1="407.5" x2="175.4" y2="407.5" stroke="#222" stroke-width="1" />
<text x="169.4" y="410.0" font-size="6.8" text-anchor="end" fill="#222" font-weight="normal" >0</text>
<line x1="172.4" y1="391.5" x2="175.4" y2="391.5" stroke="#222" stroke-width="1" />
<text x="169.4" y="394.09999999999997" font-size="6.8" text-anchor="end" fill="#222" font-weight="normal" >20</text>
<line x1="172.4" y1="375.5" x2="175.4" y2="375.5" stroke="#222" stroke-width="1" />
<text x="169.4" y="378.2" font-size="6.8" text-anchor="end" fill="#222" font-weight="normal" >40</text>
<line x1="172.4" y1="359.5" x2="175.4" y2="359.5" stroke="#222" stroke-width="1" />
<text x="169.4" y="362.29999999999995" font-size="6.8" text-anchor="end" fill="#222" font-weight="normal" >60</text>
<line x1="172.4" y1="344.5" x2="175.4" y2="344.5" stroke="#222" stroke-width="1" />
<text x="169.4" y="346.4" font-size="6.8" text-anchor="end" fill="#222" font-weight="normal" >80</text>
<line x1="172.4" y1="328.5" x2="175.4" y2="328.5" stroke="#222" stroke-width="1" />
<text x="169.4" y="330.5" font-size="6.8" text-anchor="end" fill="#222" font-weight="normal" >100</text>
<line x1="174.9" y1="407.5" x2="253.5" y2="407.5" stroke="#222" stroke-width="1.1" />
<line x1="185.5" y1="328.9" x2="185.5" y2="338.83" stroke="#c4122f" stroke-width="0.9" />
<line x1="182.45" y1="328.5" x2="187.95" y2="328.5" stroke="#c4122f" stroke-width="0.9" />
<line x1="182.45" y1="338.5" x2="187.95" y2="338.5" stroke="#c4122f" stroke-width="0.9" />
<line x1="180.2" y1="333.5" x2="190.2" y2="333.5" stroke="#c4122f" stroke-width="0.9" />
<circle cx="185.2" cy="328.9" r="1.45" fill="#c4122f"/>
<circle cx="185.2" cy="333.67" r="1.45" fill="#c4122f"/>
<circle cx="185.2" cy="338.44" r="1.45" fill="#c4122f"/>
<line x1="199.5" y1="350.84" x2="199.5" y2="362.6" stroke="#f3971b" stroke-width="0.9" />
<line x1="196.85" y1="350.5" x2="202.35" y2="350.5" stroke="#f3971b" stroke-width="0.9" />
<line x1="196.85" y1="362.5" x2="202.35" y2="362.5" stroke="#f3971b" stroke-width="0.9" />
<line x1="194.6" y1="356.5" x2="204.6" y2="356.5" stroke="#f3971b" stroke-width="0.9" />
<rect x="198.15" y="350.5" width="2.9" height="2.9" fill="#f3971b"/>
<rect x="198.15" y="355.27000000000004" width="2.9" height="2.9" fill="#f3971b"/>
<rect x="198.15" y="360.04" width="2.9" height="2.9" fill="#f3971b"/>
<line x1="214.5" y1="386.37" x2="214.5" y2="400.13" stroke="#3cab47" stroke-width="0.9" />
<line x1="211.35" y1="386.5" x2="216.85" y2="386.5" stroke="#3cab47" stroke-width="0.9" />
<line x1="211.35" y1="400.5" x2="216.85" y2="400.5" stroke="#3cab47" stroke-width="0.9" />
<line x1="209.1" y1="393.5" x2="219.1" y2="393.5" stroke="#3cab47" stroke-width="0.9" />
<path d="M214.1,385.1175 L215.9125,388.38 L212.2875,388.38 Z" fill="#3cab47"/>
<path d="M214.1,392.2775 L215.9125,395.53999999999996 L212.2875,395.53999999999996 Z" fill="#3cab47"/>
<path d="M214.1,397.8375 L215.9125,401.09999999999997 L212.2875,401.09999999999997 Z" fill="#3cab47"/>
<line x1="228.5" y1="355.13" x2="228.5" y2="392.1" stroke="#1c4f8a" stroke-width="0.9" />
<line x1="225.85" y1="355.5" x2="231.35" y2="355.5" stroke="#1c4f8a" stroke-width="0.9" />
<line x1="225.85" y1="392.5" x2="231.35" y2="392.5" stroke="#1c4f8a" stroke-width="0.9" />
<line x1="223.6" y1="374.5" x2="233.6" y2="374.5" stroke="#1c4f8a" stroke-width="0.9" />
<circle cx="228.6" cy="355.13" r="1.45" fill="#1c4f8a"/>
<circle cx="228.6" cy="382.16" r="1.45" fill="#1c4f8a"/>
<circle cx="228.6" cy="386.93" r="1.45" fill="#1c4f8a"/>
<line x1="243.5" y1="373.1" x2="243.5" y2="387.57" stroke="#9890cd" stroke-width="0.9" />
<line x1="240.25" y1="373.5" x2="245.75" y2="373.5" stroke="#9890cd" stroke-width="0.9" />
<line x1="240.25" y1="387.5" x2="245.75" y2="387.5" stroke="#9890cd" stroke-width="0.9" />
<line x1="238.0" y1="381.5" x2="248.0" y2="381.5" stroke="#9890cd" stroke-width="0.9" />
<path d="M243,372.2525 L244.9575,374.21 L243,376.16749999999996 L241.0425,374.21 Z" fill="#9890cd"/>
<path d="M243,379.4125 L244.9575,381.37 L243,383.3275 L241.0425,381.37 Z" fill="#9890cd"/>
<path d="M243,384.9725 L244.9575,386.93 L243,388.8875 L241.0425,386.93 Z" fill="#9890cd"/>
<line x1="185.2" y1="324.5" x2="215.7" y2="324.5" stroke="#333" stroke-width="1.1" />
<text x="200.45" y="324.6" font-size="8.0" text-anchor="middle" fill="#222" font-weight="normal" >****</text>
<line x1="190.6" y1="336.5" x2="245.2" y2="336.5" stroke="#333" stroke-width="1.1" />
<text x="217.89999999999998" y="336.5" font-size="8.0" text-anchor="middle" fill="#222" font-weight="normal" >***</text>
<text transform="translate(151.1,366.4) rotate(-90) scale(0.84,1)" font-size="7.7" text-anchor="middle" fill="#222" stroke="#222" stroke-width="0.2">% hCD45 in BM engraftment</text>
<text x="270" y="297.6" font-size="11.2" text-anchor="start" fill="#111" font-weight="bold" >D</text>
<text x="352.1" y="298.8" font-size="8.6" text-anchor="middle" fill="#222" font-weight="normal" >T-ALL CU76</text>
<text x="352.1" y="309.5" font-size="8.6" text-anchor="middle" fill="#222" font-weight="normal" >Platelets count</text>
<line x1="313.5" y1="324.7" x2="313.5" y2="408.1" stroke="#222" stroke-width="1.1" />
<line x1="310.5" y1="407.5" x2="313.5" y2="407.5" stroke="#222" stroke-width="1" />
<text x="306.5" y="409.9" font-size="6.8" text-anchor="end" fill="#222" font-weight="normal" >0</text>
<line x1="310.5" y1="387.5" x2="313.5" y2="387.5" stroke="#222" stroke-width="1" />
<text x="306.5" y="390.2" font-size="6.8" text-anchor="end" fill="#222" font-weight="normal" >200</text>
<line x1="310.5" y1="368.5" x2="313.5" y2="368.5" stroke="#222" stroke-width="1" />
<text x="306.5" y="370.5" font-size="6.8" text-anchor="end" fill="#222" font-weight="normal" >400</text>
<line x1="310.5" y1="348.5" x2="313.5" y2="348.5" stroke="#222" stroke-width="1" />
<text x="306.5" y="350.79999999999995" font-size="6.8" text-anchor="end" fill="#222" font-weight="normal" >600</text>
<line x1="310.5" y1="328.5" x2="313.5" y2="328.5" stroke="#222" stroke-width="1" />
<text x="306.5" y="331.09999999999997" font-size="6.8" text-anchor="end" fill="#222" font-weight="normal" >800</text>
<line x1="313.0" y1="407.5" x2="389.8" y2="407.5" stroke="#222" stroke-width="1.1" />
<line x1="323.5" y1="333.82" x2="323.5" y2="356.28" stroke="#c4122f" stroke-width="0.9" />
<line x1="320.35" y1="333.5" x2="325.85" y2="333.5" stroke="#c4122f" stroke-width="0.9" />
<line x1="320.35" y1="356.5" x2="325.85" y2="356.5" stroke="#c4122f" stroke-width="0.9" />
<line x1="318.1" y1="345.5" x2="328.1" y2="345.5" stroke="#c4122f" stroke-width="0.9" />
<path d="M323.1,336.27 L325.35,332.21999999999997 L320.85,332.21999999999997 Z" fill="#c4122f"/>
<path d="M323.1,346.71 L325.35,342.65999999999997 L320.85,342.65999999999997 Z" fill="#c4122f"/>
<path d="M323.1,358.33 L325.35,354.28 L320.85,354.28 Z" fill="#c4122f"/>
<line x1="337.5" y1="363.67" x2="337.5" y2="370.07" stroke="#f3971b" stroke-width="0.9" />
<line x1="334.65" y1="363.5" x2="340.15" y2="363.5" stroke="#f3971b" stroke-width="0.9" />
<line x1="334.65" y1="370.5" x2="340.15" y2="370.5" stroke="#f3971b" stroke-width="0.9" />
<line x1="332.4" y1="367.5" x2="342.4" y2="367.5" stroke="#f3971b" stroke-width="0.9" />
<rect x="335.59999999999997" y="362.36" width="3.6" height="3.6" fill="#f3971b"/>
<rect x="335.59999999999997" y="365.81" width="3.6" height="3.6" fill="#f3971b"/>
<rect x="335.59999999999997" y="367.78" width="3.6" height="3.6" fill="#f3971b"/>
<line x1="352.5" y1="348.79" x2="352.5" y2="367.51" stroke="#3cab47" stroke-width="0.9" />
<line x1="349.25" y1="348.5" x2="354.75" y2="348.5" stroke="#3cab47" stroke-width="0.9" />
<line x1="349.25" y1="367.5" x2="354.75" y2="367.5" stroke="#3cab47" stroke-width="0.9" />
<line x1="347.0" y1="359.5" x2="357.0" y2="359.5" stroke="#3cab47" stroke-width="0.9" />
<path d="M352,351.63 L354.25,347.58 L349.75,347.58 Z" fill="#3cab47"/>
<path d="M352,367.89 L354.25,363.84 L349.75,363.84 Z" fill="#3cab47"/>
<path d="M352,367.89 L354.25,363.84 L349.75,363.84 Z" fill="#3cab47"/>
<line x1="365.5" y1="333.82" x2="365.5" y2="368.0" stroke="#1c4f8a" stroke-width="0.9" />
<line x1="363.05" y1="333.5" x2="368.55" y2="333.5" stroke="#1c4f8a" stroke-width="0.9" />
<line x1="363.05" y1="368.5" x2="368.55" y2="368.5" stroke="#1c4f8a" stroke-width="0.9" />
<line x1="360.8" y1="352.5" x2="370.8" y2="352.5" stroke="#1c4f8a" stroke-width="0.9" />
<path d="M365.8,331.77 L368.05,335.82 L363.55,335.82 Z" fill="#1c4f8a"/>
<path d="M365.8,351.57 L368.05,355.62 L363.55,355.62 Z" fill="#1c4f8a"/>
<path d="M365.8,365.55 L368.05,369.6 L363.55,369.6 Z" fill="#1c4f8a"/>
<line x1="379.5" y1="339.93" x2="379.5" y2="347.42" stroke="#9890cd" stroke-width="0.9" />
<line x1="376.95" y1="339.5" x2="382.45" y2="339.5" stroke="#9890cd" stroke-width="0.9" />
<line x1="376.95" y1="347.5" x2="382.45" y2="347.5" stroke="#9890cd" stroke-width="0.9" />
<line x1="374.7" y1="345.5" x2="384.7" y2="345.5" stroke="#9890cd" stroke-width="0.9" />
<rect x="377.9" y="338.71999999999997" width="3.6" height="3.6" fill="#9890cd"/>
<rect x="377.9" y="344.14" width="3.6" height="3.6" fill="#9890cd"/>
<rect x="377.9" y="344.14" width="3.6" height="3.6" fill="#9890cd"/>
<line x1="321.3" y1="322.5" x2="383" y2="322.5" stroke="#333" stroke-width="1.1" />
<text x="352.15" y="321.2" font-size="6.4" text-anchor="middle" fill="#333" font-weight="normal" >ns</text>
<text transform="translate(289.6,366.4) rotate(-90) scale(0.86,1)" font-size="7.6" text-anchor="middle" fill="#222" stroke="#222" stroke-width="0.2">Platelet 10<tspan font-size="5.2" dy="-3">3</tspan><tspan dy="3">/mm</tspan><tspan font-size="5.2" dy="-3">3</tspan></text>
<text x="476.5" y="298.8" font-size="8.6" text-anchor="middle" fill="#222" font-weight="normal" >T-ALL PDX 1</text>
<text x="477.1" y="309.5" font-size="8.6" text-anchor="middle" fill="#222" font-weight="normal" >Platelets count</text>
<line x1="441.5" y1="324.7" x2="441.5" y2="408.1" stroke="#222" stroke-width="1.1" />
<line x1="438.5" y1="407.5" x2="441.5" y2="407.5" stroke="#222" stroke-width="1" />
<text x="434.5" y="409.9" font-size="6.8" text-anchor="end" fill="#222" font-weight="normal" >0</text>
<line x1="438.5" y1="391.5" x2="441.5" y2="391.5" stroke="#222" stroke-width="1" />
<text x="434.5" y="394.14" font-size="6.8" text-anchor="end" fill="#222" font-weight="normal" >200</text>
<line x1="438.5" y1="375.5" x2="441.5" y2="375.5" stroke="#222" stroke-width="1" />
<text x="434.5" y="378.38" font-size="6.8" text-anchor="end" fill="#222" font-weight="normal" >400</text>
<line x1="438.5" y1="360.5" x2="441.5" y2="360.5" stroke="#222" stroke-width="1" />
<text x="434.5" y="362.62" font-size="6.8" text-anchor="end" fill="#222" font-weight="normal" >600</text>
<line x1="438.5" y1="344.5" x2="441.5" y2="344.5" stroke="#222" stroke-width="1" />
<text x="434.5" y="346.85999999999996" font-size="6.8" text-anchor="end" fill="#222" font-weight="normal" >800</text>
<line x1="438.5" y1="328.5" x2="441.5" y2="328.5" stroke="#222" stroke-width="1" />
<text x="434.5" y="331.09999999999997" font-size="6.8" text-anchor="end" fill="#222" font-weight="normal" >1000</text>
<line x1="441.0" y1="407.5" x2="512.9" y2="407.5" stroke="#222" stroke-width="1.1" />
<line x1="450.5" y1="348.4" x2="450.5" y2="366.52" stroke="#c4122f" stroke-width="0.9" />
<line x1="447.75" y1="348.5" x2="453.25" y2="348.5" stroke="#c4122f" stroke-width="0.9" />
<line x1="447.75" y1="366.5" x2="453.25" y2="366.5" stroke="#c4122f" stroke-width="0.9" />
<line x1="445.5" y1="358.5" x2="455.5" y2="358.5" stroke="#c4122f" stroke-width="0.9" />
<path d="M450.5,346.15 L452.75,350.2 L448.25,350.2 Z" fill="#c4122f"/>
<path d="M450.5,355.76 L452.75,359.81 L448.25,359.81 Z" fill="#c4122f"/>
<path d="M450.5,364.27 L452.75,368.32 L448.25,368.32 Z" fill="#c4122f"/>
<line x1="464.5" y1="361.32" x2="464.5" y2="375.03" stroke="#5cbf5c" stroke-width="0.9" />
<line x1="461.45" y1="361.5" x2="466.95" y2="361.5" stroke="#5cbf5c" stroke-width="0.9" />
<line x1="461.45" y1="375.5" x2="466.95" y2="375.5" stroke="#5cbf5c" stroke-width="0.9" />
<line x1="459.2" y1="369.5" x2="469.2" y2="369.5" stroke="#5cbf5c" stroke-width="0.9" />
<path d="M464.2,359.55 L466.45,363.6 L461.95,363.6 Z" fill="#5cbf5c"/>
<path d="M464.2,371.37 L466.45,375.42 L461.95,375.42 Z" fill="#5cbf5c"/>
<path d="M464.2,372.55 L466.45,376.6 L461.95,376.6 Z" fill="#5cbf5c"/>
<line x1="477.5" y1="338.0" x2="477.5" y2="368.73" stroke="#1e7a5a" stroke-width="0.9" />
<line x1="474.75" y1="338.5" x2="480.25" y2="338.5" stroke="#1e7a5a" stroke-width="0.9" />
<line x1="474.75" y1="368.5" x2="480.25" y2="368.5" stroke="#1e7a5a" stroke-width="0.9" />
<line x1="472.5" y1="352.5" x2="482.5" y2="352.5" stroke="#1e7a5a" stroke-width="0.9" />
<circle cx="477.5" cy="339.73" r="1.8" fill="#1e7a5a"/>
<circle cx="477.5" cy="342.88" r="1.8" fill="#1e7a5a"/>
<circle cx="477.5" cy="368.73" r="1.8" fill="#1e7a5a"/>
<line x1="490.5" y1="348.01" x2="490.5" y2="376.22" stroke="#1c4f8a" stroke-width="0.9" />
<line x1="487.75" y1="348.5" x2="493.25" y2="348.5" stroke="#1c4f8a" stroke-width="0.9" />
<line x1="487.75" y1="376.5" x2="493.25" y2="376.5" stroke="#1c4f8a" stroke-width="0.9" />
<line x1="485.5" y1="363.5" x2="495.5" y2="363.5" stroke="#1c4f8a" stroke-width="0.9" />
<path d="M490.5,350.26 L492.75,346.21 L488.25,346.21 Z" fill="#1c4f8a"/>
<path d="M490.5,365.62 L492.75,361.57 L488.25,361.57 Z" fill="#1c4f8a"/>
<path d="M490.5,378.47 L492.75,374.42 L488.25,374.42 Z" fill="#1c4f8a"/>
<line x1="503.5" y1="353.21" x2="503.5" y2="359.43" stroke="#9890cd" stroke-width="0.9" />
<line x1="500.75" y1="353.5" x2="506.25" y2="353.5" stroke="#9890cd" stroke-width="0.9" />
<line x1="500.75" y1="359.5" x2="506.25" y2="359.5" stroke="#9890cd" stroke-width="0.9" />
<line x1="498.5" y1="357.5" x2="508.5" y2="357.5" stroke="#9890cd" stroke-width="0.9" />
<rect x="501.7" y="351.71999999999997" width="3.6" height="3.6" fill="#9890cd"/>
<rect x="501.7" y="356.06" width="3.6" height="3.6" fill="#9890cd"/>
<rect x="501.7" y="356.06" width="3.6" height="3.6" fill="#9890cd"/>
<line x1="448.8" y1="331.5" x2="507" y2="331.5" stroke="#333" stroke-width="1.1" />
<text x="477.9" y="329.7" font-size="6.4" text-anchor="middle" fill="#333" font-weight="normal" >ns</text>
<text transform="translate(413.6,366) rotate(-90) scale(0.80,1)" font-size="7.6" text-anchor="middle" fill="#222" stroke="#222" stroke-width="0.2">Platelets 10<tspan font-size="5.2" dy="-3">3</tspan><tspan dy="3">/mm</tspan><tspan font-size="5.2" dy="-3">3</tspan></text>
<text x="48.7" y="438.2" font-size="11.2" text-anchor="start" fill="#111" font-weight="bold" >E</text>
<text x="146.6" y="436.3" font-size="8.6" text-anchor="middle" fill="#222" font-weight="normal" >T-ALL CU76 body weight</text>
<line x1="87.5" y1="448.8" x2="87.5" y2="531.8000000000001" stroke="#222" stroke-width="1.1" />
<line x1="84.5" y1="531.5" x2="87.5" y2="531.5" stroke="#222" stroke-width="1" />
<text x="80.7" y="533.6" font-size="6.8" text-anchor="end" fill="#222" font-weight="normal" >10</text>
<line x1="84.5" y1="504.5" x2="87.5" y2="504.5" stroke="#222" stroke-width="1" />
<text x="80.7" y="507.29999999999995" font-size="6.8" text-anchor="end" fill="#222" font-weight="normal" >15</text>
<line x1="84.5" y1="478.5" x2="87.5" y2="478.5" stroke="#222" stroke-width="1" />
<text x="80.7" y="481.0" font-size="6.8" text-anchor="end" fill="#222" font-weight="normal" >20</text>
<line x1="84.5" y1="452.5" x2="87.5" y2="452.5" stroke="#222" stroke-width="1" />
<text x="80.7" y="454.7" font-size="6.8" text-anchor="end" fill="#222" font-weight="normal" >25</text>
<line x1="87.0" y1="531.5" x2="206.3" y2="531.5" stroke="#222" stroke-width="1.1" />
<line x1="106.5" y1="531.2" x2="106.5" y2="534.2" stroke="#222" stroke-width="1" />
<text x="106.3" y="543.6" font-size="6.8" text-anchor="middle" fill="#222" font-weight="normal" >1</text>
<line x1="146.5" y1="531.2" x2="146.5" y2="534.2" stroke="#222" stroke-width="1" />
<text x="146.3" y="543.6" font-size="6.8" text-anchor="middle" fill="#222" font-weight="normal" >3</text>
<line x1="186.5" y1="531.2" x2="186.5" y2="534.2" stroke="#222" stroke-width="1" />
<text x="186.3" y="543.6" font-size="6.8" text-anchor="middle" fill="#222" font-weight="normal" >5</text>
<text transform="translate(146.8,556) scale(0.74,1)" font-size="8.3" text-anchor="middle" fill="#222" stroke="#222" stroke-width="0.25">Weeks post treatment</text>
<line x1="92.5" y1="479.13" x2="92.5" y2="484.91" stroke="#c4122f" stroke-width="0.9" />
<line x1="90.39999999999999" y1="479.5" x2="93.8" y2="479.5" stroke="#c4122f" stroke-width="0.9" />
<line x1="90.39999999999999" y1="484.5" x2="93.8" y2="484.5" stroke="#c4122f" stroke-width="0.9" />
<line x1="89.6" y1="483.5" x2="94.6" y2="483.5" stroke="#c4122f" stroke-width="0.9" />
<circle cx="92.1" cy="479.13" r="1.4" fill="#c4122f"/>
<circle cx="92.1" cy="483.33" r="1.4" fill="#c4122f"/>
<circle cx="92.1" cy="484.39" r="1.4" fill="#c4122f"/>
<line x1="99.5" y1="472.81" x2="99.5" y2="489.65" stroke="#f0a826" stroke-width="0.9" />
<line x1="97.5" y1="472.5" x2="100.9" y2="472.5" stroke="#f0a826" stroke-width="0.9" />
<line x1="97.5" y1="489.5" x2="100.9" y2="489.5" stroke="#f0a826" stroke-width="0.9" />
<line x1="96.7" y1="480.5" x2="101.7" y2="480.5" stroke="#f0a826" stroke-width="0.9" />
<rect x="97.8" y="471.94" width="2.8" height="2.8" fill="#f0a826"/>
<rect x="97.8" y="479.3" width="2.8" height="2.8" fill="#f0a826"/>
<rect x="97.8" y="487.72" width="2.8" height="2.8" fill="#f0a826"/>
<line x1="106.5" y1="478.6" x2="106.5" y2="489.12" stroke="#3cab47" stroke-width="0.9" />
<line x1="104.6" y1="478.5" x2="108.0" y2="478.5" stroke="#3cab47" stroke-width="0.9" />
<line x1="104.6" y1="489.5" x2="108.0" y2="489.5" stroke="#3cab47" stroke-width="0.9" />
<line x1="103.8" y1="483.5" x2="108.8" y2="483.5" stroke="#3cab47" stroke-width="0.9" />
<path d="M106.3,476.85 L108.05,480.0 L104.55,480.0 Z" fill="#3cab47"/>
<path d="M106.3,482.11 L108.05,485.26 L104.55,485.26 Z" fill="#3cab47"/>
<path d="M106.3,486.84 L108.05,489.98999999999995 L104.55,489.98999999999995 Z" fill="#3cab47"/>
<line x1="113.5" y1="462.82" x2="113.5" y2="482.28" stroke="#1c4f8a" stroke-width="0.9" />
<line x1="111.89999999999999" y1="462.5" x2="115.3" y2="462.5" stroke="#1c4f8a" stroke-width="0.9" />
<line x1="111.89999999999999" y1="482.5" x2="115.3" y2="482.5" stroke="#1c4f8a" stroke-width="0.9" />
<line x1="111.1" y1="473.5" x2="116.1" y2="473.5" stroke="#1c4f8a" stroke-width="0.9" />
<circle cx="113.6" cy="462.82" r="1.4" fill="#1c4f8a"/>
<circle cx="113.6" cy="478.6" r="1.4" fill="#1c4f8a"/>
<circle cx="113.6" cy="481.23" r="1.4" fill="#1c4f8a"/>
<line x1="120.5" y1="488.59" x2="120.5" y2="504.9" stroke="#9890cd" stroke-width="0.9" />
<line x1="119.1" y1="488.5" x2="122.5" y2="488.5" stroke="#9890cd" stroke-width="0.9" />
<line x1="119.1" y1="504.5" x2="122.5" y2="504.5" stroke="#9890cd" stroke-width="0.9" />
<line x1="118.3" y1="494.5" x2="123.3" y2="494.5" stroke="#9890cd" stroke-width="0.9" />
<path d="M120.8,487.23 L122.69,489.12 L120.8,491.01 L118.91,489.12 Z" fill="#9890cd"/>
<path d="M120.8,492.49 L122.69,494.38 L120.8,496.27 L118.91,494.38 Z" fill="#9890cd"/>
<path d="M120.8,503.01 L122.69,504.9 L120.8,506.78999999999996 L118.91,504.9 Z" fill="#9890cd"/>
<line x1="132.5" y1="478.6" x2="132.5" y2="489.12" stroke="#c4122f" stroke-width="0.9" />
<line x1="130.40000000000003" y1="478.5" x2="133.8" y2="478.5" stroke="#c4122f" stroke-width="0.9" />
<line x1="130.40000000000003" y1="489.5" x2="133.8" y2="489.5" stroke="#c4122f" stroke-width="0.9" />
<line x1="129.60000000000002" y1="483.5" x2="134.60000000000002" y2="483.5" stroke="#c4122f" stroke-width="0.9" />
<circle cx="132.10000000000002" cy="478.6" r="1.4" fill="#c4122f"/>
<circle cx="132.10000000000002" cy="483.86" r="1.4" fill="#c4122f"/>
<circle cx="132.10000000000002" cy="488.07" r="1.4" fill="#c4122f"/>
<line x1="139.5" y1="470.18" x2="139.5" y2="489.12" stroke="#f0a826" stroke-width="0.9" />
<line x1="137.50000000000003" y1="470.5" x2="140.9" y2="470.5" stroke="#f0a826" stroke-width="0.9" />
<line x1="137.50000000000003" y1="489.5" x2="140.9" y2="489.5" stroke="#f0a826" stroke-width="0.9" />
<line x1="136.70000000000002" y1="479.5" x2="141.70000000000002" y2="479.5" stroke="#f0a826" stroke-width="0.9" />
<rect x="137.8" y="469.31" width="2.8" height="2.8" fill="#f0a826"/>
<rect x="137.8" y="477.20000000000005" width="2.8" height="2.8" fill="#f0a826"/>
<rect x="137.8" y="486.67" width="2.8" height="2.8" fill="#f0a826"/>
<line x1="146.5" y1="473.34" x2="146.5" y2="487.02" stroke="#3cab47" stroke-width="0.9" />
<line x1="144.60000000000002" y1="473.5" x2="148.0" y2="473.5" stroke="#3cab47" stroke-width="0.9" />
<line x1="144.60000000000002" y1="487.5" x2="148.0" y2="487.5" stroke="#3cab47" stroke-width="0.9" />
<line x1="143.8" y1="480.5" x2="148.8" y2="480.5" stroke="#3cab47" stroke-width="0.9" />
<path d="M146.3,471.59 L148.05,474.73999999999995 L144.55,474.73999999999995 Z" fill="#3cab47"/>
<path d="M146.3,478.95 L148.05,482.09999999999997 L144.55,482.09999999999997 Z" fill="#3cab47"/>
<path d="M146.3,484.74 L148.05,487.89 L144.55,487.89 Z" fill="#3cab47"/>
<line x1="153.5" y1="462.82" x2="153.5" y2="478.6" stroke="#1c4f8a" stroke-width="0.9" />
<line x1="151.90000000000003" y1="462.5" x2="155.3" y2="462.5" stroke="#1c4f8a" stroke-width="0.9" />
<line x1="151.90000000000003" y1="478.5" x2="155.3" y2="478.5" stroke="#1c4f8a" stroke-width="0.9" />
<line x1="151.10000000000002" y1="471.5" x2="156.10000000000002" y2="471.5" stroke="#1c4f8a" stroke-width="0.9" />
<circle cx="153.60000000000002" cy="462.82" r="1.4" fill="#1c4f8a"/>
<circle cx="153.60000000000002" cy="471.24" r="1.4" fill="#1c4f8a"/>
<circle cx="153.60000000000002" cy="478.6" r="1.4" fill="#1c4f8a"/>
<line x1="160.5" y1="493.33" x2="160.5" y2="509.11" stroke="#9890cd" stroke-width="0.9" />
<line x1="159.10000000000002" y1="493.5" x2="162.5" y2="493.5" stroke="#9890cd" stroke-width="0.9" />
<line x1="159.10000000000002" y1="509.5" x2="162.5" y2="509.5" stroke="#9890cd" stroke-width="0.9" />
<line x1="158.3" y1="500.5" x2="163.3" y2="500.5" stroke="#9890cd" stroke-width="0.9" />
<path d="M160.8,492.49 L162.69,494.38 L160.8,496.27 L158.91000000000003,494.38 Z" fill="#9890cd"/>
<path d="M160.8,497.75 L162.69,499.64 L160.8,501.53 L158.91000000000003,499.64 Z" fill="#9890cd"/>
<path d="M160.8,506.69 L162.69,508.58 L160.8,510.46999999999997 L158.91000000000003,508.58 Z" fill="#9890cd"/>
<line x1="172.5" y1="473.87" x2="172.5" y2="480.18" stroke="#c4122f" stroke-width="0.9" />
<line x1="170.40000000000003" y1="473.5" x2="173.8" y2="473.5" stroke="#c4122f" stroke-width="0.9" />
<line x1="170.40000000000003" y1="480.5" x2="173.8" y2="480.5" stroke="#c4122f" stroke-width="0.9" />
<line x1="169.60000000000002" y1="477.5" x2="174.60000000000002" y2="477.5" stroke="#c4122f" stroke-width="0.9" />
<circle cx="172.10000000000002" cy="473.87" r="1.4" fill="#c4122f"/>
<circle cx="172.10000000000002" cy="477.55" r="1.4" fill="#c4122f"/>
<circle cx="172.10000000000002" cy="479.65" r="1.4" fill="#c4122f"/>
<line x1="179.5" y1="474.39" x2="179.5" y2="480.18" stroke="#f0a826" stroke-width="0.9" />
<line x1="177.50000000000003" y1="474.5" x2="180.9" y2="474.5" stroke="#f0a826" stroke-width="0.9" />
<line x1="177.50000000000003" y1="480.5" x2="180.9" y2="480.5" stroke="#f0a826" stroke-width="0.9" />
<line x1="176.70000000000002" y1="478.5" x2="181.70000000000002" y2="478.5" stroke="#f0a826" stroke-width="0.9" />
<rect x="177.8" y="472.99" width="2.8" height="2.8" fill="#f0a826"/>
<rect x="177.8" y="476.67" width="2.8" height="2.8" fill="#f0a826"/>
<rect x="177.8" y="478.25" width="2.8" height="2.8" fill="#f0a826"/>
<line x1="186.5" y1="478.07" x2="186.5" y2="484.39" stroke="#3cab47" stroke-width="0.9" />
<line x1="184.60000000000002" y1="478.5" x2="188.0" y2="478.5" stroke="#3cab47" stroke-width="0.9" />
<line x1="184.60000000000002" y1="484.5" x2="188.0" y2="484.5" stroke="#3cab47" stroke-width="0.9" />
<line x1="183.8" y1="480.5" x2="188.8" y2="480.5" stroke="#3cab47" stroke-width="0.9" />
<path d="M186.3,476.85 L188.05,480.0 L184.55,480.0 Z" fill="#3cab47"/>
<path d="M186.3,479.48 L188.05,482.63 L184.55,482.63 Z" fill="#3cab47"/>
<path d="M186.3,482.11 L188.05,485.26 L184.55,485.26 Z" fill="#3cab47"/>
<line x1="193.5" y1="468.08" x2="193.5" y2="478.6" stroke="#1c4f8a" stroke-width="0.9" />
<line x1="191.90000000000003" y1="468.5" x2="195.3" y2="468.5" stroke="#1c4f8a" stroke-width="0.9" />
<line x1="191.90000000000003" y1="478.5" x2="195.3" y2="478.5" stroke="#1c4f8a" stroke-width="0.9" />
<line x1="191.10000000000002" y1="473.5" x2="196.10000000000002" y2="473.5" stroke="#1c4f8a" stroke-width="0.9" />
<circle cx="193.60000000000002" cy="468.08" r="1.4" fill="#1c4f8a"/>
<circle cx="193.60000000000002" cy="473.34" r="1.4" fill="#1c4f8a"/>
<circle cx="193.60000000000002" cy="478.07" r="1.4" fill="#1c4f8a"/>
<line x1="200.5" y1="467.03" x2="200.5" y2="499.64" stroke="#9890cd" stroke-width="0.9" />
<line x1="199.10000000000002" y1="467.5" x2="202.5" y2="467.5" stroke="#9890cd" stroke-width="0.9" />
<line x1="199.10000000000002" y1="499.5" x2="202.5" y2="499.5" stroke="#9890cd" stroke-width="0.9" />
<line x1="198.3" y1="481.5" x2="203.3" y2="481.5" stroke="#9890cd" stroke-width="0.9" />
<path d="M200.8,471.45 L202.69,473.34 L200.8,475.22999999999996 L198.91000000000003,473.34 Z" fill="#9890cd"/>
<path d="M200.8,471.45 L202.69,473.34 L200.8,475.22999999999996 L198.91000000000003,473.34 Z" fill="#9890cd"/>
<path d="M200.8,496.7 L202.69,498.59 L200.8,500.47999999999996 L198.91000000000003,498.59 Z" fill="#9890cd"/>
<line x1="90.5" y1="452.5" x2="122" y2="452.5" stroke="#333" stroke-width="1.1" />
<text x="106.25" y="451.0" font-size="6.4" text-anchor="middle" fill="#333" font-weight="normal" >ns</text>
<line x1="128.8" y1="452.5" x2="160" y2="452.5" stroke="#333" stroke-width="1.1" />
<text x="144.4" y="452.4" font-size="8.0" text-anchor="middle" fill="#222" font-weight="normal" >*</text>
<line x1="171.3" y1="452.5" x2="202.5" y2="452.5" stroke="#333" stroke-width="1.1" />
<text x="186.9" y="451.0" font-size="6.4" text-anchor="middle" fill="#333" font-weight="normal" >ns</text>
<text transform="translate(66.6,489.2) rotate(-90) scale(0.99,1)" font-size="8.4" text-anchor="middle" fill="#222" stroke="#222" stroke-width="0.2">W/g</text>
<text x="146.6" y="583.7" font-size="8.6" text-anchor="middle" fill="#222" font-weight="normal" >T-ALL PDX 1 body weight</text>
<line x1="87.5" y1="596.2" x2="87.5" y2="679.3000000000001" stroke="#222" stroke-width="1.1" />
<line x1="84.3" y1="678.5" x2="87.3" y2="678.5" stroke="#222" stroke-width="1" />
<text x="80.5" y="681.1" font-size="6.8" text-anchor="end" fill="#222" font-weight="normal" >10</text>
<line x1="84.3" y1="652.5" x2="87.3" y2="652.5" stroke="#222" stroke-width="1" />
<text x="80.5" y="654.77" font-size="6.8" text-anchor="end" fill="#222" font-weight="normal" >15</text>
<line x1="84.3" y1="626.5" x2="87.3" y2="626.5" stroke="#222" stroke-width="1" />
<text x="80.5" y="628.43" font-size="6.8" text-anchor="end" fill="#222" font-weight="normal" >20</text>
<line x1="84.3" y1="599.5" x2="87.3" y2="599.5" stroke="#222" stroke-width="1" />
<text x="80.5" y="602.1" font-size="6.8" text-anchor="end" fill="#222" font-weight="normal" >25</text>
<line x1="86.8" y1="678.5" x2="206.3" y2="678.5" stroke="#222" stroke-width="1.1" />
<line x1="105.5" y1="678.7" x2="105.5" y2="681.7" stroke="#222" stroke-width="1" />
<text x="105.7" y="691.2" font-size="6.8" text-anchor="middle" fill="#222" font-weight="normal" >1</text>
<line x1="146.5" y1="678.7" x2="146.5" y2="681.7" stroke="#222" stroke-width="1" />
<text x="146" y="691.2" font-size="6.8" text-anchor="middle" fill="#222" font-weight="normal" >3</text>
<line x1="186.5" y1="678.7" x2="186.5" y2="681.7" stroke="#222" stroke-width="1" />
<text x="186.4" y="691.2" font-size="6.8" text-anchor="middle" fill="#222" font-weight="normal" >5</text>
<text transform="translate(146.8,703.6) scale(0.74,1)" font-size="8.3" text-anchor="middle" fill="#222" stroke="#222" stroke-width="0.25">Weeks post-treatment</text>
<line x1="93.5" y1="625.5" x2="93.5" y2="632.35" stroke="#c4122f" stroke-width="0.9" />
<line x1="91.5" y1="625.5" x2="94.9" y2="625.5" stroke="#c4122f" stroke-width="0.9" />
<line x1="91.5" y1="632.5" x2="94.9" y2="632.5" stroke="#c4122f" stroke-width="0.9" />
<line x1="90.7" y1="630.5" x2="95.7" y2="630.5" stroke="#c4122f" stroke-width="0.9" />
<circle cx="93.2" cy="626.03" r="1.4" fill="#c4122f"/>
<circle cx="93.2" cy="630.24" r="1.4" fill="#c4122f"/>
<circle cx="93.2" cy="631.3" r="1.4" fill="#c4122f"/>
<line x1="101.5" y1="626.03" x2="101.5" y2="637.09" stroke="#3cab47" stroke-width="0.9" />
<line x1="100.0" y1="626.5" x2="103.4" y2="626.5" stroke="#3cab47" stroke-width="0.9" />
<line x1="100.0" y1="637.5" x2="103.4" y2="637.5" stroke="#3cab47" stroke-width="0.9" />
<line x1="99.2" y1="631.5" x2="104.2" y2="631.5" stroke="#3cab47" stroke-width="0.9" />
<path d="M101.7,624.28 L103.45,627.43 L99.95,627.43 Z" fill="#3cab47"/>
<path d="M101.7,629.55 L103.45,632.6999999999999 L99.95,632.6999999999999 Z" fill="#3cab47"/>
<path d="M101.7,634.81 L103.45,637.9599999999999 L99.95,637.9599999999999 Z" fill="#3cab47"/>
<line x1="110.5" y1="609.18" x2="110.5" y2="629.19" stroke="#1c4f8a" stroke-width="0.9" />
<line x1="108.8" y1="609.5" x2="112.2" y2="609.5" stroke="#1c4f8a" stroke-width="0.9" />
<line x1="108.8" y1="629.5" x2="112.2" y2="629.5" stroke="#1c4f8a" stroke-width="0.9" />
<line x1="108.0" y1="620.5" x2="113.0" y2="620.5" stroke="#1c4f8a" stroke-width="0.9" />
<circle cx="110.5" cy="610.23" r="1.4" fill="#1c4f8a"/>
<circle cx="110.5" cy="626.03" r="1.4" fill="#1c4f8a"/>
<circle cx="110.5" cy="628.66" r="1.4" fill="#1c4f8a"/>
<line x1="119.5" y1="636.04" x2="119.5" y2="652.89" stroke="#9890cd" stroke-width="0.9" />
<line x1="117.3" y1="636.5" x2="120.7" y2="636.5" stroke="#9890cd" stroke-width="0.9" />
<line x1="117.3" y1="652.5" x2="120.7" y2="652.5" stroke="#9890cd" stroke-width="0.9" />
<line x1="116.5" y1="642.5" x2="121.5" y2="642.5" stroke="#9890cd" stroke-width="0.9" />
<path d="M119.0,634.67 L120.89,636.56 L119.0,638.4499999999999 L117.11,636.56 Z" fill="#9890cd"/>
<path d="M119.0,640.99 L120.89,642.88 L119.0,644.77 L117.11,642.88 Z" fill="#9890cd"/>
<path d="M119.0,650.48 L120.89,652.37 L119.0,654.26 L117.11,652.37 Z" fill="#9890cd"/>
<line x1="133.5" y1="625.5" x2="133.5" y2="637.09" stroke="#c4122f" stroke-width="0.9" />
<line x1="131.8" y1="625.5" x2="135.2" y2="625.5" stroke="#c4122f" stroke-width="0.9" />
<line x1="131.8" y1="637.5" x2="135.2" y2="637.5" stroke="#c4122f" stroke-width="0.9" />
<line x1="131.0" y1="631.5" x2="136.0" y2="631.5" stroke="#c4122f" stroke-width="0.9" />
<circle cx="133.5" cy="626.03" r="1.4" fill="#c4122f"/>
<circle cx="133.5" cy="631.3" r="1.4" fill="#c4122f"/>
<circle cx="133.5" cy="636.56" r="1.4" fill="#c4122f"/>
<line x1="142.5" y1="620.76" x2="142.5" y2="633.4" stroke="#3cab47" stroke-width="0.9" />
<line x1="140.3" y1="620.5" x2="143.7" y2="620.5" stroke="#3cab47" stroke-width="0.9" />
<line x1="140.3" y1="633.5" x2="143.7" y2="633.5" stroke="#3cab47" stroke-width="0.9" />
<line x1="139.5" y1="627.5" x2="144.5" y2="627.5" stroke="#3cab47" stroke-width="0.9" />
<path d="M142,619.01 L143.75,622.16 L140.25,622.16 Z" fill="#3cab47"/>
<path d="M142,625.86 L143.75,629.01 L140.25,629.01 Z" fill="#3cab47"/>
<path d="M142,631.13 L143.75,634.28 L140.25,634.28 Z" fill="#3cab47"/>
<line x1="150.5" y1="609.18" x2="150.5" y2="627.08" stroke="#1c4f8a" stroke-width="0.9" />
<line x1="149.10000000000002" y1="609.5" x2="152.5" y2="609.5" stroke="#1c4f8a" stroke-width="0.9" />
<line x1="149.10000000000002" y1="627.5" x2="152.5" y2="627.5" stroke="#1c4f8a" stroke-width="0.9" />
<line x1="148.3" y1="618.5" x2="153.3" y2="618.5" stroke="#1c4f8a" stroke-width="0.9" />
<circle cx="150.8" cy="610.23" r="1.4" fill="#1c4f8a"/>
<circle cx="150.8" cy="618.66" r="1.4" fill="#1c4f8a"/>
<circle cx="150.8" cy="626.03" r="1.4" fill="#1c4f8a"/>
<line x1="159.5" y1="640.25" x2="159.5" y2="656.58" stroke="#9890cd" stroke-width="0.9" />
<line x1="157.60000000000002" y1="640.5" x2="161.0" y2="640.5" stroke="#9890cd" stroke-width="0.9" />
<line x1="157.60000000000002" y1="656.5" x2="161.0" y2="656.5" stroke="#9890cd" stroke-width="0.9" />
<line x1="156.8" y1="647.5" x2="161.8" y2="647.5" stroke="#9890cd" stroke-width="0.9" />
<path d="M159.3,638.89 L161.19,640.78 L159.3,642.67 L157.41000000000003,640.78 Z" fill="#9890cd"/>
<path d="M159.3,645.21 L161.19,647.1 L159.3,648.99 L157.41000000000003,647.1 Z" fill="#9890cd"/>
<path d="M159.3,654.16 L161.19,656.05 L159.3,657.9399999999999 L157.41000000000003,656.05 Z" fill="#9890cd"/>
<line x1="173.5" y1="619.71" x2="173.5" y2="626.03" stroke="#c4122f" stroke-width="0.9" />
<line x1="172.20000000000002" y1="619.5" x2="175.6" y2="619.5" stroke="#c4122f" stroke-width="0.9" />
<line x1="172.20000000000002" y1="626.5" x2="175.6" y2="626.5" stroke="#c4122f" stroke-width="0.9" />
<line x1="171.4" y1="623.5" x2="176.4" y2="623.5" stroke="#c4122f" stroke-width="0.9" />
<circle cx="173.9" cy="620.24" r="1.4" fill="#c4122f"/>
<circle cx="173.9" cy="623.92" r="1.4" fill="#c4122f"/>
<circle cx="173.9" cy="625.5" r="1.4" fill="#c4122f"/>
<line x1="182.5" y1="623.92" x2="182.5" y2="630.24" stroke="#3cab47" stroke-width="0.9" />
<line x1="180.70000000000002" y1="623.5" x2="184.1" y2="623.5" stroke="#3cab47" stroke-width="0.9" />
<line x1="180.70000000000002" y1="630.5" x2="184.1" y2="630.5" stroke="#3cab47" stroke-width="0.9" />
<line x1="179.9" y1="626.5" x2="184.9" y2="626.5" stroke="#3cab47" stroke-width="0.9" />
<path d="M182.4,622.7 L184.15,625.85 L180.65,625.85 Z" fill="#3cab47"/>
<path d="M182.4,624.28 L184.15,627.43 L180.65,627.43 Z" fill="#3cab47"/>
<path d="M182.4,627.97 L184.15,631.12 L180.65,631.12 Z" fill="#3cab47"/>
<line x1="191.5" y1="615.5" x2="191.5" y2="625.5" stroke="#1c4f8a" stroke-width="0.9" />
<line x1="189.50000000000003" y1="615.5" x2="192.9" y2="615.5" stroke="#1c4f8a" stroke-width="0.9" />
<line x1="189.50000000000003" y1="625.5" x2="192.9" y2="625.5" stroke="#1c4f8a" stroke-width="0.9" />
<line x1="188.70000000000002" y1="620.5" x2="193.70000000000002" y2="620.5" stroke="#1c4f8a" stroke-width="0.9" />
<circle cx="191.20000000000002" cy="615.5" r="1.4" fill="#1c4f8a"/>
<circle cx="191.20000000000002" cy="620.76" r="1.4" fill="#1c4f8a"/>
<circle cx="191.20000000000002" cy="624.98" r="1.4" fill="#1c4f8a"/>
<line x1="199.5" y1="614.44" x2="199.5" y2="647.1" stroke="#9890cd" stroke-width="0.9" />
<line x1="198.00000000000003" y1="614.5" x2="201.4" y2="614.5" stroke="#9890cd" stroke-width="0.9" />
<line x1="198.00000000000003" y1="647.5" x2="201.4" y2="647.5" stroke="#9890cd" stroke-width="0.9" />
<line x1="197.20000000000002" y1="629.5" x2="202.20000000000002" y2="629.5" stroke="#9890cd" stroke-width="0.9" />
<path d="M199.70000000000002,618.87 L201.59,620.76 L199.70000000000002,622.65 L197.81000000000003,620.76 Z" fill="#9890cd"/>
<path d="M199.70000000000002,618.87 L201.59,620.76 L199.70000000000002,622.65 L197.81000000000003,620.76 Z" fill="#9890cd"/>
<path d="M199.70000000000002,644.15 L201.59,646.04 L199.70000000000002,647.93 L197.81000000000003,646.04 Z" fill="#9890cd"/>
<line x1="92.3" y1="596.5" x2="120.8" y2="596.5" stroke="#333" stroke-width="1.1" />
<text x="106.55" y="595.6" font-size="6.4" text-anchor="middle" fill="#333" font-weight="normal" >ns</text>
<line x1="133.1" y1="596.5" x2="160.8" y2="596.5" stroke="#333" stroke-width="1.1" />
<text x="146.95" y="597.0" font-size="8.0" text-anchor="middle" fill="#222" font-weight="normal" >*</text>
<line x1="172.3" y1="596.5" x2="200.8" y2="596.5" stroke="#333" stroke-width="1.1" />
<text x="186.55" y="595.6" font-size="6.4" text-anchor="middle" fill="#333" font-weight="normal" >ns</text>
<text transform="translate(66.1,637.5) rotate(-90) scale(0.83,1)" font-size="7.6" text-anchor="middle" fill="#222" stroke="#222" stroke-width="0.2">Weight (g)</text>
<text x="223" y="438.8" font-size="11.2" text-anchor="start" fill="#111" font-weight="bold" >F</text>
<rect x="298.5" y="456.5" width="67.0" height="74.29999999999995" fill="#fde6c4"/>
<line x1="298.5" y1="456.5" x2="298.5" y2="530.8" stroke="#b9a800" stroke-width="1.2" stroke-dasharray="1.2,0.9"/>
<line x1="363.5" y1="456.5" x2="363.5" y2="530.8" stroke="#b9a800" stroke-width="1.2" stroke-dasharray="1.2,0.9"/>
<path d="M264.80,456.50 L346.56,456.50 L346.56,475.07 L349.52,475.07 L349.52,512.22 L360.88,512.22 L360.88,530.80" stroke="#9890cd" stroke-width="1.1" fill="none" />
<path d="M264.80,456.50 L346.56,456.50 L346.56,493.65 L348.78,493.65 L348.78,512.22 L353.97,512.22 L353.97,530.80" stroke="#f3971b" stroke-width="1.1" fill="none" />
<path d="M264.80,456.50 L361.87,456.50 L361.87,475.07 L366.32,475.07 L366.32,530.80" stroke="#3cab47" stroke-width="1.1" fill="none" />
<path d="M264.80,456.50 L335.94,456.50 L335.94,493.65 L338.90,493.65 L338.90,512.22 L343.59,512.22" stroke="#1c4f8a" stroke-width="1.1" fill="none" />
<path d="M264.80,456.50 L331.74,456.50 L331.74,475.07 L341.12,475.07 L341.12,512.22 L343.59,512.22 L343.59,530.80" stroke="#c4122f" stroke-width="1.1" fill="none" />
<line x1="293.5" y1="454.7" x2="293.5" y2="456.5" stroke="#999" stroke-width="0.8" />
<line x1="294.5" y1="454.7" x2="294.5" y2="456.5" stroke="#999" stroke-width="0.8" />
<line x1="297.5" y1="454.7" x2="297.5" y2="456.5" stroke="#999" stroke-width="0.8" />
<line x1="301.5" y1="454.7" x2="301.5" y2="456.5" stroke="#999" stroke-width="0.8" />
<line x1="306.5" y1="454.7" x2="306.5" y2="456.5" stroke="#999" stroke-width="0.8" />
<line x1="308.5" y1="454.7" x2="308.5" y2="456.5" stroke="#999" stroke-width="0.8" />
<line x1="311.5" y1="454.7" x2="311.5" y2="456.5" stroke="#999" stroke-width="0.8" />
<line x1="315.5" y1="454.7" x2="315.5" y2="456.5" stroke="#999" stroke-width="0.8" />
<line x1="317.5" y1="454.7" x2="317.5" y2="456.5" stroke="#999" stroke-width="0.8" />
<line x1="319.5" y1="454.7" x2="319.5" y2="456.5" stroke="#999" stroke-width="0.8" />
<line x1="325.5" y1="454.7" x2="325.5" y2="456.5" stroke="#999" stroke-width="0.8" />
<line x1="328.5" y1="454.7" x2="328.5" y2="456.5" stroke="#999" stroke-width="0.8" />
<line x1="264.5" y1="448.6" x2="264.5" y2="531.4" stroke="#222" stroke-width="1.1" />
<line x1="261.7" y1="530.5" x2="264.7" y2="530.5" stroke="#222" stroke-width="1" />
<text x="258.7" y="533.1999999999999" font-size="6.8" text-anchor="end" fill="#222" font-weight="normal" >0</text>
<line x1="261.7" y1="493.5" x2="264.7" y2="493.5" stroke="#222" stroke-width="1" />
<text x="258.7" y="496.04999999999995" font-size="6.8" text-anchor="end" fill="#222" font-weight="normal" >50</text>
<line x1="261.7" y1="456.5" x2="264.7" y2="456.5" stroke="#222" stroke-width="1" />
<text x="258.7" y="458.9" font-size="6.8" text-anchor="end" fill="#222" font-weight="normal" >100</text>
<line x1="264.2" y1="530.5" x2="391.3" y2="530.5" stroke="#222" stroke-width="1.1" />
<line x1="264.5" y1="530.8" x2="264.5" y2="533.8" stroke="#222" stroke-width="1" />
<text x="264.8" y="543.6" font-size="6.8" text-anchor="middle" fill="#222" font-weight="normal" >0</text>
<line x1="289.5" y1="530.8" x2="289.5" y2="533.8" stroke="#222" stroke-width="1" />
<text x="289.5" y="543.6" font-size="6.8" text-anchor="middle" fill="#222" font-weight="normal" >10</text>
<line x1="314.5" y1="530.8" x2="314.5" y2="533.8" stroke="#222" stroke-width="1" />
<text x="314.20000000000005" y="543.6" font-size="6.8" text-anchor="middle" fill="#222" font-weight="normal" >20</text>
<line x1="338.5" y1="530.8" x2="338.5" y2="533.8" stroke="#222" stroke-width="1" />
<text x="338.90000000000003" y="543.6" font-size="6.8" text-anchor="middle" fill="#222" font-weight="normal" >30</text>
<line x1="363.5" y1="530.8" x2="363.5" y2="533.8" stroke="#222" stroke-width="1" />
<text x="363.6" y="543.6" font-size="6.8" text-anchor="middle" fill="#222" font-weight="normal" >40</text>
<line x1="388.5" y1="530.8" x2="388.5" y2="533.8" stroke="#222" stroke-width="1" />
<text x="388.3" y="543.6" font-size="6.8" text-anchor="middle" fill="#222" font-weight="normal" >50</text>
<text x="327.3" y="435.5" font-size="8.6" text-anchor="middle" fill="#222" font-weight="normal" >TALL PDX 1</text>
<text x="330.8" y="446.3" font-size="6.4" text-anchor="middle" fill="#222" font-weight="normal" >treatment duration</text>
<line x1="298.5" y1="451.5" x2="359.5" y2="451.5" stroke="#222" stroke-width="1.2" />
<path d="M358.0,448.7 L363.5,451.2 L358.0,453.7 Z" fill="#222"/>
<line x1="343.6" y1="503.5" x2="362.1" y2="503.5" stroke="#222" stroke-width="1.2" />
<path d="M345.1,501.1 L339.6,503.6 L345.1,506.1 Z" fill="#222"/>
<path d="M360.6,501.1 L366.1,503.6 L360.6,506.1 Z" fill="#222"/>
<text x="352.85" y="504.11" font-size="8.6" text-anchor="middle" fill="#111" font-weight="normal" >****</text>
<text transform="translate(239.7,489.5) rotate(-90) scale(0.85,1)" font-size="7.3" text-anchor="middle" fill="#222" stroke="#222" stroke-width="0.2">Probability of survival</text>
<text transform="translate(328.5,556.3) scale(0.72,1)" font-size="8.3" text-anchor="middle" fill="#222" stroke="#222" stroke-width="0.25">Days</text>
<line x1="397.4" y1="451.5" x2="406.5" y2="451.5" stroke="#c4122f" stroke-width="0.9" />
<path d="M401.9,450.5 L403.2,452.40000000000003 L400.6,452.40000000000003 Z" fill="#c4122f"/>
<text x="409.8" y="454.1" font-size="6.7" text-anchor="start" fill="#222" font-weight="normal" >Vehicle</text>
<line x1="397.4" y1="462.5" x2="406.5" y2="462.5" stroke="#f3971b" stroke-width="0.9" />
<path d="M401.9,461.09999999999997 L403.2,463.0 L400.6,463.0 Z" fill="#f3971b"/>
<text x="409.8" y="464.7" font-size="6.7" text-anchor="start" fill="#222" font-weight="normal" >0466(34mg/kg)</text>
<line x1="397.4" y1="473.5" x2="406.5" y2="473.5" stroke="#3cab47" stroke-width="0.9" />
<path d="M401.9,471.9 L403.2,473.8 L400.6,473.8 Z" fill="#3cab47"/>
<text x="409.8" y="475.5" font-size="6.7" text-anchor="start" fill="#222" font-weight="normal" >0466(103mg/kg)</text>
<line x1="397.4" y1="484.5" x2="406.5" y2="484.5" stroke="#1c4f8a" stroke-width="0.9" />
<path d="M401.9,482.9 L403.2,484.8 L400.6,484.8 Z" fill="#1c4f8a"/>
<text x="409.8" y="486.5" font-size="6.7" text-anchor="start" fill="#222" font-weight="normal" >5991(60mg/kg)</text>
<line x1="397.4" y1="494.5" x2="406.5" y2="494.5" stroke="#9890cd" stroke-width="0.9" />
<path d="M401.9,493.59999999999997 L403.2,495.5 L400.6,495.5 Z" fill="#9890cd"/>
<text x="409.8" y="497.2" font-size="6.7" text-anchor="start" fill="#222" font-weight="normal" >ABT-199(100mg/kg)</text>
<rect x="297.1" y="603.8" width="76.89999999999998" height="74.80000000000007" fill="#fde6c4"/>
<line x1="297.5" y1="603.8" x2="297.5" y2="678.6" stroke="#b9a800" stroke-width="1.2" stroke-dasharray="1.2,0.9"/>
<line x1="373.5" y1="603.8" x2="373.5" y2="678.6" stroke="#b9a800" stroke-width="1.2" stroke-dasharray="1.2,0.9"/>
<path d="M265.00,603.80 L367.40,603.80 L367.40,618.76 L369.93,618.76 L369.93,648.68 L372.46,648.68 L372.46,678.60" stroke="#f3971b" stroke-width="1.1" fill="none" />
<path d="M338.75,622.50 L340.85,622.50 L340.85,629.23 L338.75,629.23" stroke="#555" stroke-width="1.1" fill="none" />
<path d="M341.27,641.20 L344.86,641.20 L344.86,659.90 L341.27,659.90 L341.27,641.20" stroke="#9890cd" stroke-width="1.1" fill="none" />
<path d="M341.27,653.92 L344.86,653.92 L344.86,659.90" stroke="#333" stroke-width="1.1" fill="none" />
<path d="M265.00,603.80 L338.75,603.80 L338.75,659.90 L345.07,659.90 L345.07,678.60" stroke="#c4122f" stroke-width="1.1" fill="none" />
<line x1="297.5" y1="602.0" x2="297.5" y2="603.8" stroke="#933" stroke-width="0.8" />
<line x1="311.5" y1="602.0" x2="311.5" y2="603.8" stroke="#933" stroke-width="0.8" />
<line x1="325.5" y1="602.0" x2="325.5" y2="603.8" stroke="#933" stroke-width="0.8" />
<line x1="264.5" y1="596.3" x2="264.5" y2="679.2" stroke="#222" stroke-width="1.1" />
<line x1="261.7" y1="678.5" x2="264.7" y2="678.5" stroke="#222" stroke-width="1" />
<text x="258.7" y="681.0" font-size="6.8" text-anchor="end" fill="#222" font-weight="normal" >0</text>
<line x1="261.7" y1="641.5" x2="264.7" y2="641.5" stroke="#222" stroke-width="1" />
<text x="258.7" y="643.6" font-size="6.8" text-anchor="end" fill="#222" font-weight="normal" >50</text>
<line x1="261.7" y1="603.5" x2="264.7" y2="603.5" stroke="#222" stroke-width="1" />
<text x="258.7" y="606.1999999999999" font-size="6.8" text-anchor="end" fill="#222" font-weight="normal" >100</text>
<line x1="264.2" y1="678.5" x2="391.2" y2="678.5" stroke="#222" stroke-width="1.1" />
<line x1="265.5" y1="678.6" x2="265.5" y2="681.6" stroke="#222" stroke-width="1" />
<text x="265.0" y="691.2" font-size="6.8" text-anchor="middle" fill="#222" font-weight="normal" >0</text>
<line x1="279.5" y1="678.6" x2="279.5" y2="681.6" stroke="#222" stroke-width="1" />
<text x="279.749" y="691.2" font-size="6.8" text-anchor="middle" fill="#222" font-weight="normal" >7</text>
<line x1="294.5" y1="678.6" x2="294.5" y2="681.6" stroke="#222" stroke-width="1" />
<text x="294.498" y="691.2" font-size="6.8" text-anchor="middle" fill="#222" font-weight="normal" >14</text>
<line x1="309.5" y1="678.6" x2="309.5" y2="681.6" stroke="#222" stroke-width="1" />
<text x="309.247" y="691.2" font-size="6.8" text-anchor="middle" fill="#222" font-weight="normal" >21</text>
<line x1="323.5" y1="678.6" x2="323.5" y2="681.6" stroke="#222" stroke-width="1" />
<text x="323.996" y="691.2" font-size="6.8" text-anchor="middle" fill="#222" font-weight="normal" >28</text>
<line x1="338.5" y1="678.6" x2="338.5" y2="681.6" stroke="#222" stroke-width="1" />
<text x="338.745" y="691.2" font-size="6.8" text-anchor="middle" fill="#222" font-weight="normal" >35</text>
<line x1="353.5" y1="678.6" x2="353.5" y2="681.6" stroke="#222" stroke-width="1" />
<text x="353.494" y="691.2" font-size="6.8" text-anchor="middle" fill="#222" font-weight="normal" >42</text>
<line x1="368.5" y1="678.6" x2="368.5" y2="681.6" stroke="#222" stroke-width="1" />
<text x="368.243" y="691.2" font-size="6.8" text-anchor="middle" fill="#222" font-weight="normal" >49</text>
<line x1="382.5" y1="678.6" x2="382.5" y2="681.6" stroke="#222" stroke-width="1" />
<text x="382.992" y="691.2" font-size="6.8" text-anchor="middle" fill="#222" font-weight="normal" >56</text>
<text x="328.2" y="582" font-size="8.6" text-anchor="middle" fill="#222" font-weight="normal" >T-ALL PDX CU76</text>
<text x="335.4" y="592.6" font-size="6.4" text-anchor="middle" fill="#222" font-weight="normal" >treatment duration</text>
<line x1="297.1" y1="598.5" x2="369.2" y2="598.5" stroke="#222" stroke-width="1.2" />
<path d="M367.7,595.5 L373.2,598 L367.7,600.5 Z" fill="#222"/>
<line x1="350.2" y1="665.5" x2="369.2" y2="665.5" stroke="#222" stroke-width="1.2" />
<path d="M351.7,663.0 L346.2,665.5 L351.7,668.0 Z" fill="#222"/>
<path d="M367.7,663.0 L373.2,665.5 L367.7,668.0 Z" fill="#222"/>
<text x="359.7" y="666.01" font-size="8.6" text-anchor="middle" fill="#111" font-weight="normal" >***</text>
<text transform="translate(240.9,637.2) rotate(-90) scale(0.79,1)" font-size="7.6" text-anchor="middle" fill="#222" stroke="#222" stroke-width="0.2">% Survival</text>
<text transform="translate(328.5,704.3) scale(0.72,1)" font-size="8.3" text-anchor="middle" fill="#222" stroke="#222" stroke-width="0.25">Days</text>
<line x1="397.4" y1="599.5" x2="406.5" y2="599.5" stroke="#c4122f" stroke-width="0.9" />
<path d="M401.9,598.2 L403.2,600.1 L400.6,600.1 Z" fill="#c4122f"/>
<text x="409.8" y="601.8" font-size="6.7" text-anchor="start" fill="#222" font-weight="normal" >Vehicle</text>
<line x1="397.4" y1="610.5" x2="406.5" y2="610.5" stroke="#f3971b" stroke-width="0.9" />
<path d="M401.9,609.0 L403.2,610.9 L400.6,610.9 Z" fill="#f3971b"/>
<text x="409.8" y="612.5999999999999" font-size="6.7" text-anchor="start" fill="#222" font-weight="normal" >0466 (34mg/kg)</text>
<line x1="397.4" y1="620.5" x2="406.5" y2="620.5" stroke="#1c4f8a" stroke-width="0.9" />
<path d="M401.9,619.3000000000001 L403.2,621.2 L400.6,621.2 Z" fill="#1c4f8a"/>
<text x="409.8" y="622.9" font-size="6.7" text-anchor="start" fill="#222" font-weight="normal" >5991 (60mg/kg)</text>
<line x1="397.4" y1="631.5" x2="406.5" y2="631.5" stroke="#9890cd" stroke-width="0.9" />
<path d="M401.9,629.9000000000001 L403.2,631.8000000000001 L400.6,631.8000000000001 Z" fill="#9890cd"/>
<text x="409.8" y="633.5" font-size="6.7" text-anchor="start" fill="#222" font-weight="normal" >ABT-199 (100mg/kg)</text>
<rect x="0.5" y="0.5" width="519" height="712" fill="none" stroke="#555" stroke-width="1"/>
</svg></body></html>
